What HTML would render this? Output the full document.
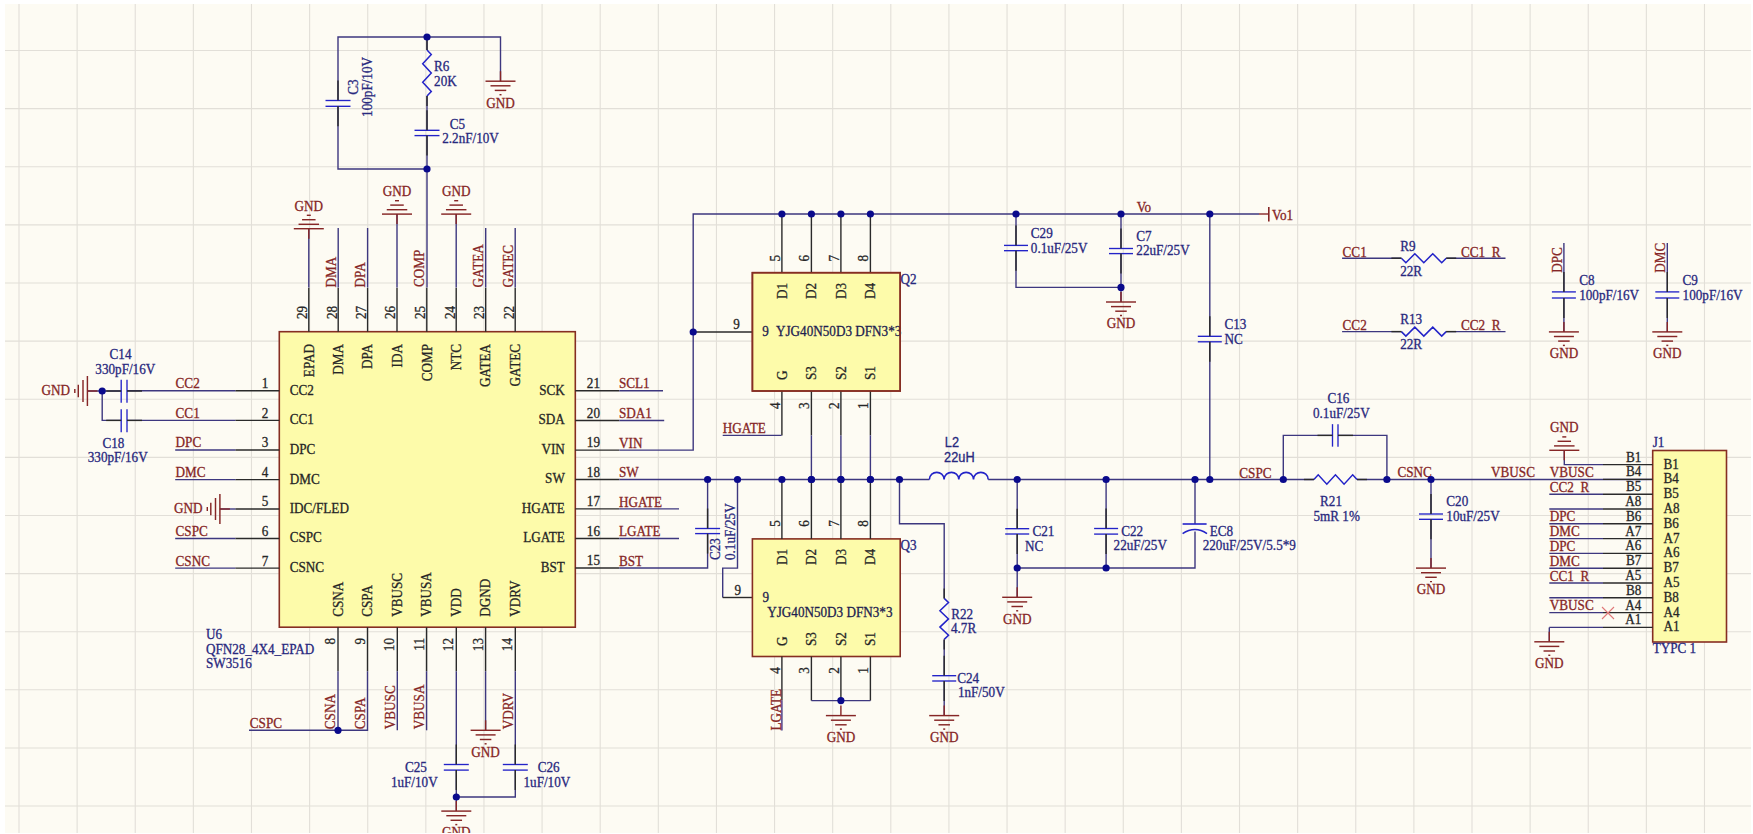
<!DOCTYPE html>
<html><head><meta charset="utf-8"><title>Schematic</title>
<style>
html,body{margin:0;padding:0;background:#fff;}
body{width:1753px;height:834px;overflow:hidden;font-family:"Liberation Serif",serif;}
svg{display:block;}
</style></head><body>
<svg width="1753" height="834" viewBox="0 0 1753 834">
<rect x="0" y="0" width="1753" height="834" fill="#FFFFFF"/>
<rect x="5" y="4" width="1746" height="829" fill="#FDFBF3"/>
<line x1="19" y1="4" x2="19" y2="833" stroke="#E2DFD8" stroke-width="1.1"/>
<line x1="77.12" y1="4" x2="77.12" y2="833" stroke="#E2DFD8" stroke-width="1.1"/>
<line x1="135.24" y1="4" x2="135.24" y2="833" stroke="#E2DFD8" stroke-width="1.1"/>
<line x1="193.36" y1="4" x2="193.36" y2="833" stroke="#E2DFD8" stroke-width="1.1"/>
<line x1="251.48" y1="4" x2="251.48" y2="833" stroke="#E2DFD8" stroke-width="1.1"/>
<line x1="309.6" y1="4" x2="309.6" y2="833" stroke="#E2DFD8" stroke-width="1.1"/>
<line x1="367.72" y1="4" x2="367.72" y2="833" stroke="#E2DFD8" stroke-width="1.1"/>
<line x1="425.84" y1="4" x2="425.84" y2="833" stroke="#E2DFD8" stroke-width="1.1"/>
<line x1="483.96" y1="4" x2="483.96" y2="833" stroke="#E2DFD8" stroke-width="1.1"/>
<line x1="542.08" y1="4" x2="542.08" y2="833" stroke="#E2DFD8" stroke-width="1.1"/>
<line x1="600.2" y1="4" x2="600.2" y2="833" stroke="#E2DFD8" stroke-width="1.1"/>
<line x1="658.32" y1="4" x2="658.32" y2="833" stroke="#E2DFD8" stroke-width="1.1"/>
<line x1="716.44" y1="4" x2="716.44" y2="833" stroke="#E2DFD8" stroke-width="1.1"/>
<line x1="774.56" y1="4" x2="774.56" y2="833" stroke="#E2DFD8" stroke-width="1.1"/>
<line x1="832.68" y1="4" x2="832.68" y2="833" stroke="#E2DFD8" stroke-width="1.1"/>
<line x1="890.8" y1="4" x2="890.8" y2="833" stroke="#E2DFD8" stroke-width="1.1"/>
<line x1="948.92" y1="4" x2="948.92" y2="833" stroke="#E2DFD8" stroke-width="1.1"/>
<line x1="1007.04" y1="4" x2="1007.04" y2="833" stroke="#E2DFD8" stroke-width="1.1"/>
<line x1="1065.16" y1="4" x2="1065.16" y2="833" stroke="#E2DFD8" stroke-width="1.1"/>
<line x1="1123.28" y1="4" x2="1123.28" y2="833" stroke="#E2DFD8" stroke-width="1.1"/>
<line x1="1181.4" y1="4" x2="1181.4" y2="833" stroke="#E2DFD8" stroke-width="1.1"/>
<line x1="1239.52" y1="4" x2="1239.52" y2="833" stroke="#E2DFD8" stroke-width="1.1"/>
<line x1="1297.64" y1="4" x2="1297.64" y2="833" stroke="#E2DFD8" stroke-width="1.1"/>
<line x1="1355.76" y1="4" x2="1355.76" y2="833" stroke="#E2DFD8" stroke-width="1.1"/>
<line x1="1413.88" y1="4" x2="1413.88" y2="833" stroke="#E2DFD8" stroke-width="1.1"/>
<line x1="1472" y1="4" x2="1472" y2="833" stroke="#E2DFD8" stroke-width="1.1"/>
<line x1="1530.12" y1="4" x2="1530.12" y2="833" stroke="#E2DFD8" stroke-width="1.1"/>
<line x1="1588.24" y1="4" x2="1588.24" y2="833" stroke="#E2DFD8" stroke-width="1.1"/>
<line x1="1646.36" y1="4" x2="1646.36" y2="833" stroke="#E2DFD8" stroke-width="1.1"/>
<line x1="1704.48" y1="4" x2="1704.48" y2="833" stroke="#E2DFD8" stroke-width="1.1"/>
<line x1="5" y1="50.5" x2="1751" y2="50.5" stroke="#E2DFD8" stroke-width="1.1"/>
<line x1="5" y1="108.62" x2="1751" y2="108.62" stroke="#E2DFD8" stroke-width="1.1"/>
<line x1="5" y1="166.74" x2="1751" y2="166.74" stroke="#E2DFD8" stroke-width="1.1"/>
<line x1="5" y1="224.86" x2="1751" y2="224.86" stroke="#E2DFD8" stroke-width="1.1"/>
<line x1="5" y1="282.98" x2="1751" y2="282.98" stroke="#E2DFD8" stroke-width="1.1"/>
<line x1="5" y1="341.1" x2="1751" y2="341.1" stroke="#E2DFD8" stroke-width="1.1"/>
<line x1="5" y1="399.22" x2="1751" y2="399.22" stroke="#E2DFD8" stroke-width="1.1"/>
<line x1="5" y1="457.34" x2="1751" y2="457.34" stroke="#E2DFD8" stroke-width="1.1"/>
<line x1="5" y1="515.46" x2="1751" y2="515.46" stroke="#E2DFD8" stroke-width="1.1"/>
<line x1="5" y1="573.58" x2="1751" y2="573.58" stroke="#E2DFD8" stroke-width="1.1"/>
<line x1="5" y1="631.7" x2="1751" y2="631.7" stroke="#E2DFD8" stroke-width="1.1"/>
<line x1="5" y1="689.82" x2="1751" y2="689.82" stroke="#E2DFD8" stroke-width="1.1"/>
<line x1="5" y1="747.94" x2="1751" y2="747.94" stroke="#E2DFD8" stroke-width="1.1"/>
<line x1="5" y1="806.06" x2="1751" y2="806.06" stroke="#E2DFD8" stroke-width="1.1"/>
<polyline points="500.5,81.2 500.5,37 338,37 338,100.5" fill="none" stroke="#3D377F" stroke-width="1.4" stroke-linejoin="miter"/>
<line x1="325.5" y1="100.5" x2="350.5" y2="100.5" stroke="#2323C8" stroke-width="1.35"/>
<line x1="325.5" y1="106.3" x2="350.5" y2="106.3" stroke="#2323C8" stroke-width="1.35"/>
<polyline points="338,106.3 338,169 427,169" fill="none" stroke="#3D377F" stroke-width="1.4" stroke-linejoin="miter"/>
<line x1="427" y1="37" x2="427" y2="50" stroke="#3D377F" stroke-width="1.4"/>
<polyline points="427,50 431.3,54.6 422.7,63.8 431.3,73 422.7,82.2 431.3,91.4 427,96" fill="none" stroke="#2323C8" stroke-width="1.5" stroke-linejoin="miter"/>
<line x1="427" y1="96" x2="427" y2="130.3" stroke="#3D377F" stroke-width="1.4"/>
<line x1="414.5" y1="130.3" x2="439.5" y2="130.3" stroke="#2323C8" stroke-width="1.35"/>
<line x1="414.5" y1="135.6" x2="439.5" y2="135.6" stroke="#2323C8" stroke-width="1.35"/>
<line x1="427" y1="135.6" x2="427" y2="287.4" stroke="#3D377F" stroke-width="1.4"/>
<line x1="500.5" y1="71.2" x2="500.5" y2="81.2" stroke="#862626" stroke-width="1.4"/>
<line x1="485.5" y1="81.2" x2="515.5" y2="81.2" stroke="#862626" stroke-width="1.45"/>
<line x1="490.5" y1="85.8" x2="510.5" y2="85.8" stroke="#862626" stroke-width="1.45"/>
<line x1="494.75" y1="90.4" x2="506.25" y2="90.4" stroke="#862626" stroke-width="1.45"/>
<line x1="499.5" y1="94.7" x2="501.5" y2="94.7" stroke="#862626" stroke-width="1.45"/>
<text transform="translate(500.5 107.6) translate(0 -0.1) scale(0.94 1)" fill="#862626" stroke="#862626" stroke-width="0.3" text-anchor="middle" font-size="14.0" font-family="Liberation Serif">GND</text>
<text transform="translate(358.2 94.8) rotate(-90) translate(0 0) scale(0.94 1)" fill="#28287E" stroke="#28287E" stroke-width="0.3" text-anchor="start" font-size="14.0" font-family="Liberation Serif">C3</text>
<text transform="translate(371.6 116.9) rotate(-90) translate(0 0) scale(0.94 1)" fill="#28287E" stroke="#28287E" stroke-width="0.3" text-anchor="start" font-size="14.0" font-family="Liberation Serif">100pF/10V</text>
<text transform="translate(434.1 70.6) translate(0 0) scale(0.94 1)" fill="#28287E" stroke="#28287E" stroke-width="0.3" text-anchor="start" font-size="14.0" font-family="Liberation Serif">R6</text>
<text transform="translate(434.1 85.7) translate(0 0) scale(0.94 1)" fill="#28287E" stroke="#28287E" stroke-width="0.3" text-anchor="start" font-size="14.0" font-family="Liberation Serif">20K</text>
<text transform="translate(449.8 129.2) translate(0 0) scale(0.94 1)" fill="#28287E" stroke="#28287E" stroke-width="0.3" text-anchor="start" font-size="14.0" font-family="Liberation Serif">C5</text>
<text transform="translate(442.2 143.2) translate(0 0) scale(0.94 1)" fill="#28287E" stroke="#28287E" stroke-width="0.3" text-anchor="start" font-size="14.0" font-family="Liberation Serif">2.2nF/10V</text>
<rect x="279.3" y="331.7" width="296" height="295.5" fill="#FDFBAA" stroke="#862E22" stroke-width="1.6"/>
<line x1="308.8" y1="331.7" x2="308.8" y2="287.7" stroke="#2A2A2A" stroke-width="1.4"/>
<text transform="translate(313.5 344) rotate(-90) translate(0 0) scale(0.94 1)" fill="#262626" stroke="#262626" stroke-width="0.3" text-anchor="end" font-size="14.0" font-family="Liberation Serif">EPAD</text>
<text transform="translate(307.1 319.1) rotate(-90) translate(0 0) scale(0.94 1)" fill="#262626" stroke="#262626" stroke-width="0.3" text-anchor="start" font-size="14.0" font-family="Liberation Serif">29</text>
<line x1="338.2" y1="331.7" x2="338.2" y2="287.7" stroke="#2A2A2A" stroke-width="1.4"/>
<text transform="translate(342.9 344) rotate(-90) translate(0 0) scale(0.94 1)" fill="#262626" stroke="#262626" stroke-width="0.3" text-anchor="end" font-size="14.0" font-family="Liberation Serif">DMA</text>
<text transform="translate(336.5 319.1) rotate(-90) translate(0 0) scale(0.94 1)" fill="#262626" stroke="#262626" stroke-width="0.3" text-anchor="start" font-size="14.0" font-family="Liberation Serif">28</text>
<line x1="367.6" y1="331.7" x2="367.6" y2="287.7" stroke="#2A2A2A" stroke-width="1.4"/>
<text transform="translate(372.3 344) rotate(-90) translate(0 0) scale(0.94 1)" fill="#262626" stroke="#262626" stroke-width="0.3" text-anchor="end" font-size="14.0" font-family="Liberation Serif">DPA</text>
<text transform="translate(365.9 319.1) rotate(-90) translate(0 0) scale(0.94 1)" fill="#262626" stroke="#262626" stroke-width="0.3" text-anchor="start" font-size="14.0" font-family="Liberation Serif">27</text>
<line x1="397" y1="331.7" x2="397" y2="287.7" stroke="#2A2A2A" stroke-width="1.4"/>
<text transform="translate(401.7 344) rotate(-90) translate(0 0) scale(0.94 1)" fill="#262626" stroke="#262626" stroke-width="0.3" text-anchor="end" font-size="14.0" font-family="Liberation Serif">IDA</text>
<text transform="translate(395.3 319.1) rotate(-90) translate(0 0) scale(0.94 1)" fill="#262626" stroke="#262626" stroke-width="0.3" text-anchor="start" font-size="14.0" font-family="Liberation Serif">26</text>
<line x1="426.8" y1="331.7" x2="426.8" y2="287.7" stroke="#2A2A2A" stroke-width="1.4"/>
<text transform="translate(431.5 344) rotate(-90) translate(0 0) scale(0.94 1)" fill="#262626" stroke="#262626" stroke-width="0.3" text-anchor="end" font-size="14.0" font-family="Liberation Serif">COMP</text>
<text transform="translate(425.1 319.1) rotate(-90) translate(0 0) scale(0.94 1)" fill="#262626" stroke="#262626" stroke-width="0.3" text-anchor="start" font-size="14.0" font-family="Liberation Serif">25</text>
<line x1="456.2" y1="331.7" x2="456.2" y2="287.7" stroke="#2A2A2A" stroke-width="1.4"/>
<text transform="translate(460.9 344) rotate(-90) translate(0 0) scale(0.94 1)" fill="#262626" stroke="#262626" stroke-width="0.3" text-anchor="end" font-size="14.0" font-family="Liberation Serif">NTC</text>
<text transform="translate(454.5 319.1) rotate(-90) translate(0 0) scale(0.94 1)" fill="#262626" stroke="#262626" stroke-width="0.3" text-anchor="start" font-size="14.0" font-family="Liberation Serif">24</text>
<line x1="485.7" y1="331.7" x2="485.7" y2="287.7" stroke="#2A2A2A" stroke-width="1.4"/>
<text transform="translate(490.4 344) rotate(-90) translate(0 0) scale(0.94 1)" fill="#262626" stroke="#262626" stroke-width="0.3" text-anchor="end" font-size="14.0" font-family="Liberation Serif">GATEA</text>
<text transform="translate(484 319.1) rotate(-90) translate(0 0) scale(0.94 1)" fill="#262626" stroke="#262626" stroke-width="0.3" text-anchor="start" font-size="14.0" font-family="Liberation Serif">23</text>
<line x1="515.2" y1="331.7" x2="515.2" y2="287.7" stroke="#2A2A2A" stroke-width="1.4"/>
<text transform="translate(519.9 344) rotate(-90) translate(0 0) scale(0.94 1)" fill="#262626" stroke="#262626" stroke-width="0.3" text-anchor="end" font-size="14.0" font-family="Liberation Serif">GATEC</text>
<text transform="translate(513.5 319.1) rotate(-90) translate(0 0) scale(0.94 1)" fill="#262626" stroke="#262626" stroke-width="0.3" text-anchor="start" font-size="14.0" font-family="Liberation Serif">22</text>
<line x1="308.8" y1="287.4" x2="308.8" y2="228.7" stroke="#3D377F" stroke-width="1.4"/>
<line x1="308.8" y1="238.7" x2="308.8" y2="228.7" stroke="#862626" stroke-width="1.4"/>
<line x1="293.8" y1="228.7" x2="323.8" y2="228.7" stroke="#862626" stroke-width="1.45"/>
<line x1="298.55" y1="224.3" x2="319.05" y2="224.3" stroke="#862626" stroke-width="1.45"/>
<line x1="302.05" y1="219.7" x2="315.55" y2="219.7" stroke="#862626" stroke-width="1.45"/>
<line x1="306.8" y1="215.3" x2="310.8" y2="215.3" stroke="#862626" stroke-width="1.45"/>
<text transform="translate(308.8 210.7) translate(0 -0.2) scale(0.94 1)" fill="#862626" stroke="#862626" stroke-width="0.3" text-anchor="middle" font-size="14.0" font-family="Liberation Serif">GND</text>
<line x1="338.2" y1="287.4" x2="338.2" y2="228" stroke="#3D377F" stroke-width="1.4"/>
<text transform="translate(334.8 287.4) rotate(-90) translate(0 1) scale(0.94 1)" fill="#862626" stroke="#862626" stroke-width="0.3" text-anchor="start" font-size="14.0" font-family="Liberation Serif">DMA</text>
<line x1="367.6" y1="287.4" x2="367.6" y2="228" stroke="#3D377F" stroke-width="1.4"/>
<text transform="translate(364.2 287.4) rotate(-90) translate(0 1) scale(0.94 1)" fill="#862626" stroke="#862626" stroke-width="0.3" text-anchor="start" font-size="14.0" font-family="Liberation Serif">DPA</text>
<line x1="485.7" y1="287.4" x2="485.7" y2="228" stroke="#3D377F" stroke-width="1.4"/>
<text transform="translate(482.3 287.4) rotate(-90) translate(0 1) scale(0.94 1)" fill="#862626" stroke="#862626" stroke-width="0.3" text-anchor="start" font-size="14.0" font-family="Liberation Serif">GATEA</text>
<line x1="515.2" y1="287.4" x2="515.2" y2="228" stroke="#3D377F" stroke-width="1.4"/>
<text transform="translate(511.8 287.4) rotate(-90) translate(0 1) scale(0.94 1)" fill="#862626" stroke="#862626" stroke-width="0.3" text-anchor="start" font-size="14.0" font-family="Liberation Serif">GATEC</text>
<text transform="translate(423.2 287) rotate(-90) translate(0 1) scale(0.94 1)" fill="#862626" stroke="#862626" stroke-width="0.3" text-anchor="start" font-size="14.0" font-family="Liberation Serif">COMP</text>
<line x1="397" y1="287.4" x2="397" y2="214.1" stroke="#3D377F" stroke-width="1.4"/>
<line x1="397" y1="224.1" x2="397" y2="214.1" stroke="#862626" stroke-width="1.4"/>
<line x1="382" y1="214.1" x2="412" y2="214.1" stroke="#862626" stroke-width="1.45"/>
<line x1="386.75" y1="209.7" x2="407.25" y2="209.7" stroke="#862626" stroke-width="1.45"/>
<line x1="390.25" y1="205.1" x2="403.75" y2="205.1" stroke="#862626" stroke-width="1.45"/>
<line x1="395" y1="200.7" x2="399" y2="200.7" stroke="#862626" stroke-width="1.45"/>
<text transform="translate(397 196.1) translate(0 -0.2) scale(0.94 1)" fill="#862626" stroke="#862626" stroke-width="0.3" text-anchor="middle" font-size="14.0" font-family="Liberation Serif">GND</text>
<line x1="456.2" y1="287.4" x2="456.2" y2="214.1" stroke="#3D377F" stroke-width="1.4"/>
<line x1="456.2" y1="224.1" x2="456.2" y2="214.1" stroke="#862626" stroke-width="1.4"/>
<line x1="441.2" y1="214.1" x2="471.2" y2="214.1" stroke="#862626" stroke-width="1.45"/>
<line x1="445.95" y1="209.7" x2="466.45" y2="209.7" stroke="#862626" stroke-width="1.45"/>
<line x1="449.45" y1="205.1" x2="462.95" y2="205.1" stroke="#862626" stroke-width="1.45"/>
<line x1="454.2" y1="200.7" x2="458.2" y2="200.7" stroke="#862626" stroke-width="1.45"/>
<text transform="translate(456.2 196.1) translate(0 -0.2) scale(0.94 1)" fill="#862626" stroke="#862626" stroke-width="0.3" text-anchor="middle" font-size="14.0" font-family="Liberation Serif">GND</text>
<line x1="279.3" y1="390.8" x2="235.3" y2="390.8" stroke="#2A2A2A" stroke-width="1.4"/>
<text transform="translate(289.7 395.5) translate(0 -0.8) scale(0.94 1)" fill="#262626" stroke="#262626" stroke-width="0.3" text-anchor="start" font-size="14.0" font-family="Liberation Serif">CC2</text>
<text transform="translate(268.3 388.2) translate(0 0) scale(0.94 1)" fill="#262626" stroke="#262626" stroke-width="0.3" text-anchor="end" font-size="14.0" font-family="Liberation Serif">1</text>
<line x1="279.3" y1="420.4" x2="235.3" y2="420.4" stroke="#2A2A2A" stroke-width="1.4"/>
<text transform="translate(289.7 425.1) translate(0 -0.8) scale(0.94 1)" fill="#262626" stroke="#262626" stroke-width="0.3" text-anchor="start" font-size="14.0" font-family="Liberation Serif">CC1</text>
<text transform="translate(268.3 417.8) translate(0 0) scale(0.94 1)" fill="#262626" stroke="#262626" stroke-width="0.3" text-anchor="end" font-size="14.0" font-family="Liberation Serif">2</text>
<line x1="279.3" y1="450" x2="235.3" y2="450" stroke="#2A2A2A" stroke-width="1.4"/>
<text transform="translate(289.7 454.7) translate(0 -0.8) scale(0.94 1)" fill="#262626" stroke="#262626" stroke-width="0.3" text-anchor="start" font-size="14.0" font-family="Liberation Serif">DPC</text>
<text transform="translate(268.3 447.4) translate(0 0) scale(0.94 1)" fill="#262626" stroke="#262626" stroke-width="0.3" text-anchor="end" font-size="14.0" font-family="Liberation Serif">3</text>
<line x1="279.3" y1="479.6" x2="235.3" y2="479.6" stroke="#2A2A2A" stroke-width="1.4"/>
<text transform="translate(289.7 484.3) translate(0 -0.8) scale(0.94 1)" fill="#262626" stroke="#262626" stroke-width="0.3" text-anchor="start" font-size="14.0" font-family="Liberation Serif">DMC</text>
<text transform="translate(268.3 477) translate(0 0) scale(0.94 1)" fill="#262626" stroke="#262626" stroke-width="0.3" text-anchor="end" font-size="14.0" font-family="Liberation Serif">4</text>
<line x1="279.3" y1="509" x2="235.3" y2="509" stroke="#2A2A2A" stroke-width="1.4"/>
<text transform="translate(289.7 513.7) translate(0 -0.8) scale(0.94 1)" fill="#262626" stroke="#262626" stroke-width="0.3" text-anchor="start" font-size="14.0" font-family="Liberation Serif">IDC/FLED</text>
<text transform="translate(268.3 506.4) translate(0 0) scale(0.94 1)" fill="#262626" stroke="#262626" stroke-width="0.3" text-anchor="end" font-size="14.0" font-family="Liberation Serif">5</text>
<line x1="279.3" y1="538.5" x2="235.3" y2="538.5" stroke="#2A2A2A" stroke-width="1.4"/>
<text transform="translate(289.7 543.2) translate(0 -0.8) scale(0.94 1)" fill="#262626" stroke="#262626" stroke-width="0.3" text-anchor="start" font-size="14.0" font-family="Liberation Serif">CSPC</text>
<text transform="translate(268.3 535.9) translate(0 0) scale(0.94 1)" fill="#262626" stroke="#262626" stroke-width="0.3" text-anchor="end" font-size="14.0" font-family="Liberation Serif">6</text>
<line x1="279.3" y1="568.1" x2="235.3" y2="568.1" stroke="#2A2A2A" stroke-width="1.4"/>
<text transform="translate(289.7 572.8) translate(0 -0.8) scale(0.94 1)" fill="#262626" stroke="#262626" stroke-width="0.3" text-anchor="start" font-size="14.0" font-family="Liberation Serif">CSNC</text>
<text transform="translate(268.3 565.5) translate(0 0) scale(0.94 1)" fill="#262626" stroke="#262626" stroke-width="0.3" text-anchor="end" font-size="14.0" font-family="Liberation Serif">7</text>
<line x1="127" y1="390.8" x2="235.3" y2="390.8" stroke="#3D377F" stroke-width="1.4"/>
<line x1="127" y1="420.4" x2="235.3" y2="420.4" stroke="#3D377F" stroke-width="1.4"/>
<text transform="translate(175.6 387.2) translate(0 1) scale(0.94 1)" fill="#862626" stroke="#862626" stroke-width="0.3" text-anchor="start" font-size="14.0" font-family="Liberation Serif">CC2</text>
<text transform="translate(175.6 416.8) translate(0 1) scale(0.94 1)" fill="#862626" stroke="#862626" stroke-width="0.3" text-anchor="start" font-size="14.0" font-family="Liberation Serif">CC1</text>
<line x1="175.2" y1="450" x2="235.3" y2="450" stroke="#3D377F" stroke-width="1.4"/>
<text transform="translate(175.6 446.4) translate(0 1) scale(0.94 1)" fill="#862626" stroke="#862626" stroke-width="0.3" text-anchor="start" font-size="14.0" font-family="Liberation Serif">DPC</text>
<line x1="175.2" y1="479.6" x2="235.3" y2="479.6" stroke="#3D377F" stroke-width="1.4"/>
<text transform="translate(175.6 476) translate(0 1) scale(0.94 1)" fill="#862626" stroke="#862626" stroke-width="0.3" text-anchor="start" font-size="14.0" font-family="Liberation Serif">DMC</text>
<line x1="175.2" y1="538.5" x2="235.3" y2="538.5" stroke="#3D377F" stroke-width="1.4"/>
<text transform="translate(175.6 534.9) translate(0 1) scale(0.94 1)" fill="#862626" stroke="#862626" stroke-width="0.3" text-anchor="start" font-size="14.0" font-family="Liberation Serif">CSPC</text>
<line x1="175.2" y1="568.1" x2="235.3" y2="568.1" stroke="#3D377F" stroke-width="1.4"/>
<text transform="translate(175.6 564.5) translate(0 1) scale(0.94 1)" fill="#862626" stroke="#862626" stroke-width="0.3" text-anchor="start" font-size="14.0" font-family="Liberation Serif">CSNC</text>
<line x1="219.9" y1="509" x2="235.3" y2="509" stroke="#3D377F" stroke-width="1.4"/>
<line x1="229.9" y1="509" x2="219.9" y2="509" stroke="#862626" stroke-width="1.4"/>
<line x1="219.9" y1="494" x2="219.9" y2="524" stroke="#862626" stroke-width="1.45"/>
<line x1="215.5" y1="498" x2="215.5" y2="520" stroke="#862626" stroke-width="1.45"/>
<line x1="210.8" y1="502.75" x2="210.8" y2="515.25" stroke="#862626" stroke-width="1.45"/>
<line x1="207.3" y1="507" x2="207.3" y2="511" stroke="#862626" stroke-width="1.45"/>
<text transform="translate(202.4 513.6) translate(0 -0.7) scale(0.94 1)" fill="#862626" stroke="#862626" stroke-width="0.3" text-anchor="end" font-size="14.0" font-family="Liberation Serif">GND</text>
<line x1="87.4" y1="391" x2="121.2" y2="391" stroke="#3D377F" stroke-width="1.4"/>
<polyline points="102.2,391 102.2,420.4 121.2,420.4" fill="none" stroke="#3D377F" stroke-width="1.4" stroke-linejoin="miter"/>
<line x1="121.2" y1="379.8" x2="121.2" y2="402.8" stroke="#2323C8" stroke-width="1.35"/>
<line x1="127" y1="379.8" x2="127" y2="402.8" stroke="#2323C8" stroke-width="1.35"/>
<line x1="121.2" y1="409.2" x2="121.2" y2="432.2" stroke="#2323C8" stroke-width="1.35"/>
<line x1="127" y1="409.2" x2="127" y2="432.2" stroke="#2323C8" stroke-width="1.35"/>
<line x1="97.4" y1="391" x2="87.4" y2="391" stroke="#862626" stroke-width="1.4"/>
<line x1="87.4" y1="376" x2="87.4" y2="406" stroke="#862626" stroke-width="1.45"/>
<line x1="83" y1="380" x2="83" y2="402" stroke="#862626" stroke-width="1.45"/>
<line x1="78.3" y1="384.75" x2="78.3" y2="397.25" stroke="#862626" stroke-width="1.45"/>
<line x1="74.8" y1="389" x2="74.8" y2="393" stroke="#862626" stroke-width="1.45"/>
<text transform="translate(69.9 395.6) translate(0 -0.7) scale(0.94 1)" fill="#862626" stroke="#862626" stroke-width="0.3" text-anchor="end" font-size="14.0" font-family="Liberation Serif">GND</text>
<text transform="translate(120.5 358.6) translate(0 0) scale(0.94 1)" fill="#28287E" stroke="#28287E" stroke-width="0.3" text-anchor="middle" font-size="14.0" font-family="Liberation Serif">C14</text>
<text transform="translate(125.3 373.5) translate(0 0) scale(0.94 1)" fill="#28287E" stroke="#28287E" stroke-width="0.3" text-anchor="middle" font-size="14.0" font-family="Liberation Serif">330pF/16V</text>
<text transform="translate(113.4 447.6) translate(0 0) scale(0.94 1)" fill="#28287E" stroke="#28287E" stroke-width="0.3" text-anchor="middle" font-size="14.0" font-family="Liberation Serif">C18</text>
<text transform="translate(117.7 461.6) translate(0 0) scale(0.94 1)" fill="#28287E" stroke="#28287E" stroke-width="0.3" text-anchor="middle" font-size="14.0" font-family="Liberation Serif">330pF/16V</text>
<line x1="575.3" y1="390.8" x2="619.3" y2="390.8" stroke="#2A2A2A" stroke-width="1.4"/>
<text transform="translate(564.8 395.5) translate(0 -0.8) scale(0.94 1)" fill="#262626" stroke="#262626" stroke-width="0.3" text-anchor="end" font-size="14.0" font-family="Liberation Serif">SCK</text>
<text transform="translate(586.8 387.8) translate(0 0) scale(0.94 1)" fill="#262626" stroke="#262626" stroke-width="0.3" text-anchor="start" font-size="14.0" font-family="Liberation Serif">21</text>
<text transform="translate(619 387.4) translate(0 1) scale(0.94 1)" fill="#862626" stroke="#862626" stroke-width="0.3" text-anchor="start" font-size="14.0" font-family="Liberation Serif">SCL1</text>
<line x1="575.3" y1="420.5" x2="619.3" y2="420.5" stroke="#2A2A2A" stroke-width="1.4"/>
<text transform="translate(564.8 425.2) translate(0 -0.8) scale(0.94 1)" fill="#262626" stroke="#262626" stroke-width="0.3" text-anchor="end" font-size="14.0" font-family="Liberation Serif">SDA</text>
<text transform="translate(586.8 417.5) translate(0 0) scale(0.94 1)" fill="#262626" stroke="#262626" stroke-width="0.3" text-anchor="start" font-size="14.0" font-family="Liberation Serif">20</text>
<text transform="translate(619 417.1) translate(0 1) scale(0.94 1)" fill="#862626" stroke="#862626" stroke-width="0.3" text-anchor="start" font-size="14.0" font-family="Liberation Serif">SDA1</text>
<line x1="575.3" y1="450.1" x2="619.3" y2="450.1" stroke="#2A2A2A" stroke-width="1.4"/>
<text transform="translate(564.8 454.8) translate(0 -0.8) scale(0.94 1)" fill="#262626" stroke="#262626" stroke-width="0.3" text-anchor="end" font-size="14.0" font-family="Liberation Serif">VIN</text>
<text transform="translate(586.8 447.1) translate(0 0) scale(0.94 1)" fill="#262626" stroke="#262626" stroke-width="0.3" text-anchor="start" font-size="14.0" font-family="Liberation Serif">19</text>
<text transform="translate(619 446.7) translate(0 1) scale(0.94 1)" fill="#862626" stroke="#862626" stroke-width="0.3" text-anchor="start" font-size="14.0" font-family="Liberation Serif">VIN</text>
<line x1="575.3" y1="479.5" x2="619.3" y2="479.5" stroke="#2A2A2A" stroke-width="1.4"/>
<text transform="translate(564.8 484.2) translate(0 -0.8) scale(0.94 1)" fill="#262626" stroke="#262626" stroke-width="0.3" text-anchor="end" font-size="14.0" font-family="Liberation Serif">SW</text>
<text transform="translate(586.8 476.5) translate(0 0) scale(0.94 1)" fill="#262626" stroke="#262626" stroke-width="0.3" text-anchor="start" font-size="14.0" font-family="Liberation Serif">18</text>
<text transform="translate(619 476.1) translate(0 1) scale(0.94 1)" fill="#862626" stroke="#862626" stroke-width="0.3" text-anchor="start" font-size="14.0" font-family="Liberation Serif">SW</text>
<line x1="575.3" y1="508.9" x2="619.3" y2="508.9" stroke="#2A2A2A" stroke-width="1.4"/>
<text transform="translate(564.8 513.6) translate(0 -0.8) scale(0.94 1)" fill="#262626" stroke="#262626" stroke-width="0.3" text-anchor="end" font-size="14.0" font-family="Liberation Serif">HGATE</text>
<text transform="translate(586.8 505.9) translate(0 0) scale(0.94 1)" fill="#262626" stroke="#262626" stroke-width="0.3" text-anchor="start" font-size="14.0" font-family="Liberation Serif">17</text>
<text transform="translate(619 505.5) translate(0 1) scale(0.94 1)" fill="#862626" stroke="#862626" stroke-width="0.3" text-anchor="start" font-size="14.0" font-family="Liberation Serif">HGATE</text>
<line x1="575.3" y1="538.5" x2="619.3" y2="538.5" stroke="#2A2A2A" stroke-width="1.4"/>
<text transform="translate(564.8 543.2) translate(0 -0.8) scale(0.94 1)" fill="#262626" stroke="#262626" stroke-width="0.3" text-anchor="end" font-size="14.0" font-family="Liberation Serif">LGATE</text>
<text transform="translate(586.8 535.5) translate(0 0) scale(0.94 1)" fill="#262626" stroke="#262626" stroke-width="0.3" text-anchor="start" font-size="14.0" font-family="Liberation Serif">16</text>
<text transform="translate(619 535.1) translate(0 1) scale(0.94 1)" fill="#862626" stroke="#862626" stroke-width="0.3" text-anchor="start" font-size="14.0" font-family="Liberation Serif">LGATE</text>
<line x1="575.3" y1="568" x2="619.3" y2="568" stroke="#2A2A2A" stroke-width="1.4"/>
<text transform="translate(564.8 572.7) translate(0 -0.8) scale(0.94 1)" fill="#262626" stroke="#262626" stroke-width="0.3" text-anchor="end" font-size="14.0" font-family="Liberation Serif">BST</text>
<text transform="translate(586.8 565) translate(0 0) scale(0.94 1)" fill="#262626" stroke="#262626" stroke-width="0.3" text-anchor="start" font-size="14.0" font-family="Liberation Serif">15</text>
<text transform="translate(619 564.6) translate(0 1) scale(0.94 1)" fill="#862626" stroke="#862626" stroke-width="0.3" text-anchor="start" font-size="14.0" font-family="Liberation Serif">BST</text>
<line x1="619.3" y1="390.8" x2="663" y2="390.8" stroke="#3D377F" stroke-width="1.4"/>
<line x1="619.3" y1="420.5" x2="664.2" y2="420.5" stroke="#3D377F" stroke-width="1.4"/>
<polyline points="619.3,450.1 693.2,450.1 693.2,214 1259,214" fill="none" stroke="#3D377F" stroke-width="1.4" stroke-linejoin="miter"/>
<line x1="619.3" y1="508.9" x2="679" y2="508.9" stroke="#3D377F" stroke-width="1.4"/>
<line x1="619.3" y1="538.5" x2="679" y2="538.5" stroke="#3D377F" stroke-width="1.4"/>
<polyline points="619.3,568 707.6,568 707.6,533.6" fill="none" stroke="#3D377F" stroke-width="1.4" stroke-linejoin="miter"/>
<line x1="338" y1="627.2" x2="338" y2="671.2" stroke="#2A2A2A" stroke-width="1.4"/>
<text transform="translate(342.7 616.8) rotate(-90) translate(0 0) scale(0.94 1)" fill="#262626" stroke="#262626" stroke-width="0.3" text-anchor="start" font-size="14.0" font-family="Liberation Serif">CSNA</text>
<text transform="translate(335 638) rotate(-90) translate(0 0) scale(0.94 1)" fill="#262626" stroke="#262626" stroke-width="0.3" text-anchor="end" font-size="14.0" font-family="Liberation Serif">8</text>
<line x1="367.5" y1="627.2" x2="367.5" y2="671.2" stroke="#2A2A2A" stroke-width="1.4"/>
<text transform="translate(372.2 616.8) rotate(-90) translate(0 0) scale(0.94 1)" fill="#262626" stroke="#262626" stroke-width="0.3" text-anchor="start" font-size="14.0" font-family="Liberation Serif">CSPA</text>
<text transform="translate(364.5 638) rotate(-90) translate(0 0) scale(0.94 1)" fill="#262626" stroke="#262626" stroke-width="0.3" text-anchor="end" font-size="14.0" font-family="Liberation Serif">9</text>
<line x1="397.3" y1="627.2" x2="397.3" y2="671.2" stroke="#2A2A2A" stroke-width="1.4"/>
<text transform="translate(402 616.8) rotate(-90) translate(0 0) scale(0.94 1)" fill="#262626" stroke="#262626" stroke-width="0.3" text-anchor="start" font-size="14.0" font-family="Liberation Serif">VBUSC</text>
<text transform="translate(394.3 638) rotate(-90) translate(0 0) scale(0.94 1)" fill="#262626" stroke="#262626" stroke-width="0.3" text-anchor="end" font-size="14.0" font-family="Liberation Serif">10</text>
<line x1="426.6" y1="627.2" x2="426.6" y2="671.2" stroke="#2A2A2A" stroke-width="1.4"/>
<text transform="translate(431.3 616.8) rotate(-90) translate(0 0) scale(0.94 1)" fill="#262626" stroke="#262626" stroke-width="0.3" text-anchor="start" font-size="14.0" font-family="Liberation Serif">VBUSA</text>
<text transform="translate(423.6 638) rotate(-90) translate(0 0) scale(0.94 1)" fill="#262626" stroke="#262626" stroke-width="0.3" text-anchor="end" font-size="14.0" font-family="Liberation Serif">11</text>
<line x1="456.3" y1="627.2" x2="456.3" y2="671.2" stroke="#2A2A2A" stroke-width="1.4"/>
<text transform="translate(461 616.8) rotate(-90) translate(0 0) scale(0.94 1)" fill="#262626" stroke="#262626" stroke-width="0.3" text-anchor="start" font-size="14.0" font-family="Liberation Serif">VDD</text>
<text transform="translate(453.3 638) rotate(-90) translate(0 0) scale(0.94 1)" fill="#262626" stroke="#262626" stroke-width="0.3" text-anchor="end" font-size="14.0" font-family="Liberation Serif">12</text>
<line x1="485.6" y1="627.2" x2="485.6" y2="671.2" stroke="#2A2A2A" stroke-width="1.4"/>
<text transform="translate(490.3 616.8) rotate(-90) translate(0 0) scale(0.94 1)" fill="#262626" stroke="#262626" stroke-width="0.3" text-anchor="start" font-size="14.0" font-family="Liberation Serif">DGND</text>
<text transform="translate(482.6 638) rotate(-90) translate(0 0) scale(0.94 1)" fill="#262626" stroke="#262626" stroke-width="0.3" text-anchor="end" font-size="14.0" font-family="Liberation Serif">13</text>
<line x1="515.3" y1="627.2" x2="515.3" y2="671.2" stroke="#2A2A2A" stroke-width="1.4"/>
<text transform="translate(520 616.8) rotate(-90) translate(0 0) scale(0.94 1)" fill="#262626" stroke="#262626" stroke-width="0.3" text-anchor="start" font-size="14.0" font-family="Liberation Serif">VDRV</text>
<text transform="translate(512.3 638) rotate(-90) translate(0 0) scale(0.94 1)" fill="#262626" stroke="#262626" stroke-width="0.3" text-anchor="end" font-size="14.0" font-family="Liberation Serif">14</text>
<line x1="338" y1="671.2" x2="338" y2="730.3" stroke="#3D377F" stroke-width="1.4"/>
<line x1="397.3" y1="671.2" x2="397.3" y2="730.3" stroke="#3D377F" stroke-width="1.4"/>
<line x1="426.6" y1="671.2" x2="426.6" y2="730.3" stroke="#3D377F" stroke-width="1.4"/>
<line x1="485.6" y1="671.2" x2="485.6" y2="730.3" stroke="#3D377F" stroke-width="1.4"/>
<polyline points="249,730.3 367.5,730.3 367.5,671.2" fill="none" stroke="#3D377F" stroke-width="1.4" stroke-linejoin="miter"/>
<text transform="translate(249.8 727) translate(0 1) scale(0.94 1)" fill="#862626" stroke="#862626" stroke-width="0.3" text-anchor="start" font-size="14.0" font-family="Liberation Serif">CSPC</text>
<text transform="translate(334.2 729.2) rotate(-90) translate(0 1) scale(0.94 1)" fill="#862626" stroke="#862626" stroke-width="0.3" text-anchor="start" font-size="14.0" font-family="Liberation Serif">CSNA</text>
<text transform="translate(363.7 729.2) rotate(-90) translate(0 1) scale(0.94 1)" fill="#862626" stroke="#862626" stroke-width="0.3" text-anchor="start" font-size="14.0" font-family="Liberation Serif">CSPA</text>
<text transform="translate(393.5 729.2) rotate(-90) translate(0 1) scale(0.94 1)" fill="#862626" stroke="#862626" stroke-width="0.3" text-anchor="start" font-size="14.0" font-family="Liberation Serif">VBUSC</text>
<text transform="translate(422.8 729.2) rotate(-90) translate(0 1) scale(0.94 1)" fill="#862626" stroke="#862626" stroke-width="0.3" text-anchor="start" font-size="14.0" font-family="Liberation Serif">VBUSA</text>
<text transform="translate(511.5 729.2) rotate(-90) translate(0 1) scale(0.94 1)" fill="#862626" stroke="#862626" stroke-width="0.3" text-anchor="start" font-size="14.0" font-family="Liberation Serif">VDRV</text>
<line x1="485.6" y1="720.3" x2="485.6" y2="730.3" stroke="#862626" stroke-width="1.4"/>
<line x1="470.6" y1="730.3" x2="500.6" y2="730.3" stroke="#862626" stroke-width="1.45"/>
<line x1="475.6" y1="734.9" x2="495.6" y2="734.9" stroke="#862626" stroke-width="1.45"/>
<line x1="479.85" y1="739.5" x2="491.35" y2="739.5" stroke="#862626" stroke-width="1.45"/>
<line x1="484.6" y1="743.8" x2="486.6" y2="743.8" stroke="#862626" stroke-width="1.45"/>
<text transform="translate(485.6 756.7) translate(0 -0.1) scale(0.94 1)" fill="#862626" stroke="#862626" stroke-width="0.3" text-anchor="middle" font-size="14.0" font-family="Liberation Serif">GND</text>
<line x1="456.3" y1="671.2" x2="456.3" y2="764.5" stroke="#3D377F" stroke-width="1.4"/>
<line x1="443.8" y1="764.5" x2="468.8" y2="764.5" stroke="#2323C8" stroke-width="1.35"/>
<line x1="443.8" y1="770.1" x2="468.8" y2="770.1" stroke="#2323C8" stroke-width="1.35"/>
<line x1="456.3" y1="770.1" x2="456.3" y2="811.1" stroke="#3D377F" stroke-width="1.4"/>
<polyline points="456.3,797 515.3,797 515.3,770.1" fill="none" stroke="#3D377F" stroke-width="1.4" stroke-linejoin="miter"/>
<line x1="502.8" y1="764.5" x2="527.8" y2="764.5" stroke="#2323C8" stroke-width="1.35"/>
<line x1="502.8" y1="770.1" x2="527.8" y2="770.1" stroke="#2323C8" stroke-width="1.35"/>
<line x1="515.3" y1="764.5" x2="515.3" y2="671.2" stroke="#3D377F" stroke-width="1.4"/>
<line x1="456.3" y1="801.1" x2="456.3" y2="811.1" stroke="#862626" stroke-width="1.4"/>
<line x1="441.3" y1="811.1" x2="471.3" y2="811.1" stroke="#862626" stroke-width="1.45"/>
<line x1="446.3" y1="815.7" x2="466.3" y2="815.7" stroke="#862626" stroke-width="1.45"/>
<line x1="450.55" y1="820.3" x2="462.05" y2="820.3" stroke="#862626" stroke-width="1.45"/>
<line x1="455.3" y1="824.6" x2="457.3" y2="824.6" stroke="#862626" stroke-width="1.45"/>
<text transform="translate(456.3 837.5) translate(0 -0.1) scale(0.94 1)" fill="#862626" stroke="#862626" stroke-width="0.3" text-anchor="middle" font-size="14.0" font-family="Liberation Serif">GND</text>
<text transform="translate(405 772.2) translate(0 0) scale(0.94 1)" fill="#28287E" stroke="#28287E" stroke-width="0.3" text-anchor="start" font-size="14.0" font-family="Liberation Serif">C25</text>
<text transform="translate(390.9 786.9) translate(0 0) scale(0.94 1)" fill="#28287E" stroke="#28287E" stroke-width="0.3" text-anchor="start" font-size="14.0" font-family="Liberation Serif">1uF/10V</text>
<text transform="translate(537.7 772.2) translate(0 0) scale(0.94 1)" fill="#28287E" stroke="#28287E" stroke-width="0.3" text-anchor="start" font-size="14.0" font-family="Liberation Serif">C26</text>
<text transform="translate(523.5 786.9) translate(0 0) scale(0.94 1)" fill="#28287E" stroke="#28287E" stroke-width="0.3" text-anchor="start" font-size="14.0" font-family="Liberation Serif">1uF/10V</text>
<text transform="translate(205.9 638.8) translate(0 0) scale(0.94 1)" fill="#28287E" stroke="#28287E" stroke-width="0.3" text-anchor="start" font-size="14.0" font-family="Liberation Serif">U6</text>
<text transform="translate(205.9 654.1) translate(0 0) scale(0.94 1)" fill="#28287E" stroke="#28287E" stroke-width="0.3" text-anchor="start" font-size="14.0" font-family="Liberation Serif">QFN28_4X4_EPAD</text>
<text transform="translate(205.9 668.3) translate(0 0) scale(0.94 1)" fill="#28287E" stroke="#28287E" stroke-width="0.3" text-anchor="start" font-size="14.0" font-family="Liberation Serif">SW3516</text>
<line x1="619.3" y1="479.5" x2="929.4" y2="479.5" stroke="#3D377F" stroke-width="1.4"/>
<line x1="988.2" y1="479.5" x2="1313.9" y2="479.5" stroke="#3D377F" stroke-width="1.4"/>
<line x1="1357" y1="479.5" x2="1652.7" y2="479.5" stroke="#3D377F" stroke-width="1.4"/>
<line x1="707.6" y1="479.5" x2="707.6" y2="528.5" stroke="#3D377F" stroke-width="1.4"/>
<line x1="695.1" y1="528.5" x2="720.1" y2="528.5" stroke="#2323C8" stroke-width="1.35"/>
<line x1="695.1" y1="533.6" x2="720.1" y2="533.6" stroke="#2323C8" stroke-width="1.35"/>
<text transform="translate(720.2 560) rotate(-90) translate(0 0) scale(0.94 1)" fill="#28287E" stroke="#28287E" stroke-width="0.3" text-anchor="start" font-size="14.0" font-family="Liberation Serif">C23</text>
<text transform="translate(735.2 560) rotate(-90) translate(0 0) scale(0.94 1)" fill="#28287E" stroke="#28287E" stroke-width="0.3" text-anchor="start" font-size="14.0" font-family="Liberation Serif">0.1uF/25V</text>
<polyline points="737.5,479.5 737.5,568.1 722.7,568.1 722.7,597.5" fill="none" stroke="#3D377F" stroke-width="1.4" stroke-linejoin="miter"/>
<line x1="722.7" y1="597.5" x2="752.4" y2="597.5" stroke="#2A2A2A" stroke-width="1.4"/>
<rect x="752.4" y="272.7" width="147.8" height="118.3" fill="#FDFBAA" stroke="#862E22" stroke-width="1.6"/>
<line x1="781.9" y1="214" x2="781.9" y2="272.7" stroke="#2A2A2A" stroke-width="1.4"/>
<text transform="translate(786.6 299) rotate(-90) translate(0 0) scale(0.94 1)" fill="#262626" stroke="#262626" stroke-width="0.3" text-anchor="start" font-size="14.0" font-family="Liberation Serif">D1</text>
<text transform="translate(779.9 258.3) rotate(-90) translate(0 0) scale(0.94 1)" fill="#262626" stroke="#262626" stroke-width="0.3" text-anchor="middle" font-size="14.0" font-family="Liberation Serif">5</text>
<line x1="811.4" y1="214" x2="811.4" y2="272.7" stroke="#2A2A2A" stroke-width="1.4"/>
<text transform="translate(816.1 299) rotate(-90) translate(0 0) scale(0.94 1)" fill="#262626" stroke="#262626" stroke-width="0.3" text-anchor="start" font-size="14.0" font-family="Liberation Serif">D2</text>
<text transform="translate(809.4 258.3) rotate(-90) translate(0 0) scale(0.94 1)" fill="#262626" stroke="#262626" stroke-width="0.3" text-anchor="middle" font-size="14.0" font-family="Liberation Serif">6</text>
<line x1="840.9" y1="214" x2="840.9" y2="272.7" stroke="#2A2A2A" stroke-width="1.4"/>
<text transform="translate(845.6 299) rotate(-90) translate(0 0) scale(0.94 1)" fill="#262626" stroke="#262626" stroke-width="0.3" text-anchor="start" font-size="14.0" font-family="Liberation Serif">D3</text>
<text transform="translate(838.9 258.3) rotate(-90) translate(0 0) scale(0.94 1)" fill="#262626" stroke="#262626" stroke-width="0.3" text-anchor="middle" font-size="14.0" font-family="Liberation Serif">7</text>
<line x1="870.4" y1="214" x2="870.4" y2="272.7" stroke="#2A2A2A" stroke-width="1.4"/>
<text transform="translate(875.1 299) rotate(-90) translate(0 0) scale(0.94 1)" fill="#262626" stroke="#262626" stroke-width="0.3" text-anchor="start" font-size="14.0" font-family="Liberation Serif">D4</text>
<text transform="translate(868.4 258.3) rotate(-90) translate(0 0) scale(0.94 1)" fill="#262626" stroke="#262626" stroke-width="0.3" text-anchor="middle" font-size="14.0" font-family="Liberation Serif">8</text>
<line x1="781.9" y1="391" x2="781.9" y2="435.4" stroke="#2A2A2A" stroke-width="1.4"/>
<text transform="translate(786.6 380) rotate(-90) translate(0 0) scale(0.94 1)" fill="#262626" stroke="#262626" stroke-width="0.3" text-anchor="start" font-size="14.0" font-family="Liberation Serif">G</text>
<text transform="translate(779.9 405.7) rotate(-90) translate(0 0) scale(0.94 1)" fill="#262626" stroke="#262626" stroke-width="0.3" text-anchor="middle" font-size="14.0" font-family="Liberation Serif">4</text>
<line x1="811.4" y1="391" x2="811.4" y2="435.4" stroke="#2A2A2A" stroke-width="1.4"/>
<line x1="811.4" y1="435.4" x2="811.4" y2="479.5" stroke="#3D377F" stroke-width="1.4"/>
<text transform="translate(816.1 380) rotate(-90) translate(0 0) scale(0.94 1)" fill="#262626" stroke="#262626" stroke-width="0.3" text-anchor="start" font-size="14.0" font-family="Liberation Serif">S3</text>
<text transform="translate(809.4 405.7) rotate(-90) translate(0 0) scale(0.94 1)" fill="#262626" stroke="#262626" stroke-width="0.3" text-anchor="middle" font-size="14.0" font-family="Liberation Serif">3</text>
<line x1="840.9" y1="391" x2="840.9" y2="435.4" stroke="#2A2A2A" stroke-width="1.4"/>
<line x1="840.9" y1="435.4" x2="840.9" y2="479.5" stroke="#3D377F" stroke-width="1.4"/>
<text transform="translate(845.6 380) rotate(-90) translate(0 0) scale(0.94 1)" fill="#262626" stroke="#262626" stroke-width="0.3" text-anchor="start" font-size="14.0" font-family="Liberation Serif">S2</text>
<text transform="translate(838.9 405.7) rotate(-90) translate(0 0) scale(0.94 1)" fill="#262626" stroke="#262626" stroke-width="0.3" text-anchor="middle" font-size="14.0" font-family="Liberation Serif">2</text>
<line x1="870.4" y1="391" x2="870.4" y2="435.4" stroke="#2A2A2A" stroke-width="1.4"/>
<line x1="870.4" y1="435.4" x2="870.4" y2="479.5" stroke="#3D377F" stroke-width="1.4"/>
<text transform="translate(875.1 380) rotate(-90) translate(0 0) scale(0.94 1)" fill="#262626" stroke="#262626" stroke-width="0.3" text-anchor="start" font-size="14.0" font-family="Liberation Serif">S1</text>
<text transform="translate(868.4 405.7) rotate(-90) translate(0 0) scale(0.94 1)" fill="#262626" stroke="#262626" stroke-width="0.3" text-anchor="middle" font-size="14.0" font-family="Liberation Serif">1</text>
<line x1="693.2" y1="332" x2="752.4" y2="332" stroke="#2A2A2A" stroke-width="1.4"/>
<text transform="translate(736.5 329) translate(0 0) scale(0.94 1)" fill="#262626" stroke="#262626" stroke-width="0.3" text-anchor="middle" font-size="14.0" font-family="Liberation Serif">9</text>
<text transform="translate(762.2 336.7) translate(0 -0.9) scale(0.94 1)" fill="#1E1E50" stroke="#1E1E50" stroke-width="0.3" text-anchor="start" font-size="14.0" font-family="Liberation Serif">9</text>
<text transform="translate(776 336.7) translate(0 -0.9) scale(0.94 1)" fill="#1E1E50" stroke="#1E1E50" stroke-width="0.3" text-anchor="start" font-size="14.0" font-family="Liberation Serif">YJG40N50D3 DFN3*3</text>
<rect x="752.4" y="272.7" width="147.8" height="118.3" fill="none" stroke="#862E22" stroke-width="1.6"/>
<text transform="translate(900.6 284.3) translate(0 0) scale(0.94 1)" fill="#28287E" stroke="#28287E" stroke-width="0.3" text-anchor="start" font-size="14.0" font-family="Liberation Serif">Q2</text>
<line x1="722.7" y1="435.4" x2="781.5" y2="435.4" stroke="#3D377F" stroke-width="1.4"/>
<text transform="translate(722.7 432) translate(0 1) scale(0.94 1)" fill="#862626" stroke="#862626" stroke-width="0.3" text-anchor="start" font-size="14.0" font-family="Liberation Serif">HGATE</text>
<rect x="752.4" y="538.9" width="147.8" height="117.6" fill="#FDFBAA" stroke="#862E22" stroke-width="1.6"/>
<line x1="781.9" y1="479.5" x2="781.9" y2="538.9" stroke="#2A2A2A" stroke-width="1.4"/>
<text transform="translate(786.6 565) rotate(-90) translate(0 0) scale(0.94 1)" fill="#262626" stroke="#262626" stroke-width="0.3" text-anchor="start" font-size="14.0" font-family="Liberation Serif">D1</text>
<text transform="translate(779.9 523.4) rotate(-90) translate(0 0) scale(0.94 1)" fill="#262626" stroke="#262626" stroke-width="0.3" text-anchor="middle" font-size="14.0" font-family="Liberation Serif">5</text>
<line x1="811.4" y1="479.5" x2="811.4" y2="538.9" stroke="#2A2A2A" stroke-width="1.4"/>
<text transform="translate(816.1 565) rotate(-90) translate(0 0) scale(0.94 1)" fill="#262626" stroke="#262626" stroke-width="0.3" text-anchor="start" font-size="14.0" font-family="Liberation Serif">D2</text>
<text transform="translate(809.4 523.4) rotate(-90) translate(0 0) scale(0.94 1)" fill="#262626" stroke="#262626" stroke-width="0.3" text-anchor="middle" font-size="14.0" font-family="Liberation Serif">6</text>
<line x1="840.9" y1="479.5" x2="840.9" y2="538.9" stroke="#2A2A2A" stroke-width="1.4"/>
<text transform="translate(845.6 565) rotate(-90) translate(0 0) scale(0.94 1)" fill="#262626" stroke="#262626" stroke-width="0.3" text-anchor="start" font-size="14.0" font-family="Liberation Serif">D3</text>
<text transform="translate(838.9 523.4) rotate(-90) translate(0 0) scale(0.94 1)" fill="#262626" stroke="#262626" stroke-width="0.3" text-anchor="middle" font-size="14.0" font-family="Liberation Serif">7</text>
<line x1="870.4" y1="479.5" x2="870.4" y2="538.9" stroke="#2A2A2A" stroke-width="1.4"/>
<text transform="translate(875.1 565) rotate(-90) translate(0 0) scale(0.94 1)" fill="#262626" stroke="#262626" stroke-width="0.3" text-anchor="start" font-size="14.0" font-family="Liberation Serif">D4</text>
<text transform="translate(868.4 523.4) rotate(-90) translate(0 0) scale(0.94 1)" fill="#262626" stroke="#262626" stroke-width="0.3" text-anchor="middle" font-size="14.0" font-family="Liberation Serif">8</text>
<line x1="781.9" y1="656.5" x2="781.9" y2="700.6" stroke="#2A2A2A" stroke-width="1.4"/>
<line x1="781.9" y1="700.6" x2="781.9" y2="730.6" stroke="#3D377F" stroke-width="1.4"/>
<text transform="translate(786.6 646) rotate(-90) translate(0 0) scale(0.94 1)" fill="#262626" stroke="#262626" stroke-width="0.3" text-anchor="start" font-size="14.0" font-family="Liberation Serif">G</text>
<text transform="translate(779.9 670.4) rotate(-90) translate(0 0) scale(0.94 1)" fill="#262626" stroke="#262626" stroke-width="0.3" text-anchor="middle" font-size="14.0" font-family="Liberation Serif">4</text>
<line x1="811.4" y1="656.5" x2="811.4" y2="700.6" stroke="#2A2A2A" stroke-width="1.4"/>
<text transform="translate(816.1 646) rotate(-90) translate(0 0) scale(0.94 1)" fill="#262626" stroke="#262626" stroke-width="0.3" text-anchor="start" font-size="14.0" font-family="Liberation Serif">S3</text>
<text transform="translate(809.4 670.4) rotate(-90) translate(0 0) scale(0.94 1)" fill="#262626" stroke="#262626" stroke-width="0.3" text-anchor="middle" font-size="14.0" font-family="Liberation Serif">3</text>
<line x1="840.9" y1="656.5" x2="840.9" y2="700.6" stroke="#2A2A2A" stroke-width="1.4"/>
<text transform="translate(845.6 646) rotate(-90) translate(0 0) scale(0.94 1)" fill="#262626" stroke="#262626" stroke-width="0.3" text-anchor="start" font-size="14.0" font-family="Liberation Serif">S2</text>
<text transform="translate(838.9 670.4) rotate(-90) translate(0 0) scale(0.94 1)" fill="#262626" stroke="#262626" stroke-width="0.3" text-anchor="middle" font-size="14.0" font-family="Liberation Serif">2</text>
<line x1="870.4" y1="656.5" x2="870.4" y2="700.6" stroke="#2A2A2A" stroke-width="1.4"/>
<text transform="translate(875.1 646) rotate(-90) translate(0 0) scale(0.94 1)" fill="#262626" stroke="#262626" stroke-width="0.3" text-anchor="start" font-size="14.0" font-family="Liberation Serif">S1</text>
<text transform="translate(868.4 670.4) rotate(-90) translate(0 0) scale(0.94 1)" fill="#262626" stroke="#262626" stroke-width="0.3" text-anchor="middle" font-size="14.0" font-family="Liberation Serif">1</text>
<line x1="811.4" y1="700.6" x2="870.4" y2="700.6" stroke="#3D377F" stroke-width="1.4"/>
<line x1="840.9" y1="705.6" x2="840.9" y2="715.6" stroke="#862626" stroke-width="1.4"/>
<line x1="825.9" y1="715.6" x2="855.9" y2="715.6" stroke="#862626" stroke-width="1.45"/>
<line x1="830.9" y1="720.2" x2="850.9" y2="720.2" stroke="#862626" stroke-width="1.45"/>
<line x1="835.15" y1="724.8" x2="846.65" y2="724.8" stroke="#862626" stroke-width="1.45"/>
<line x1="839.9" y1="729.1" x2="841.9" y2="729.1" stroke="#862626" stroke-width="1.45"/>
<text transform="translate(840.9 742) translate(0 -0.1) scale(0.94 1)" fill="#862626" stroke="#862626" stroke-width="0.3" text-anchor="middle" font-size="14.0" font-family="Liberation Serif">GND</text>
<text transform="translate(737.7 594.8) translate(0 0) scale(0.94 1)" fill="#262626" stroke="#262626" stroke-width="0.3" text-anchor="middle" font-size="14.0" font-family="Liberation Serif">9</text>
<text transform="translate(762.6 602.6) translate(0 -0.9) scale(0.94 1)" fill="#1E1E50" stroke="#1E1E50" stroke-width="0.3" text-anchor="start" font-size="14.0" font-family="Liberation Serif">9</text>
<text transform="translate(767.2 617) translate(0 0) scale(0.94 1)" fill="#1E1E50" stroke="#1E1E50" stroke-width="0.3" text-anchor="start" font-size="14.0" font-family="Liberation Serif">YJG40N50D3 DFN3*3</text>
<text transform="translate(900.4 549.9) translate(0 0) scale(0.94 1)" fill="#28287E" stroke="#28287E" stroke-width="0.3" text-anchor="start" font-size="14.0" font-family="Liberation Serif">Q3</text>
<text transform="translate(779.6 730.5) rotate(-90) translate(0 1) scale(0.94 1)" fill="#862626" stroke="#862626" stroke-width="0.3" text-anchor="start" font-size="14.0" font-family="Liberation Serif">LGATE</text>
<path d="M929.4,479.5 M929.4,479.5 C929.7,470 943.8,470 944.1,479.5 M944.1,479.5 C944.4,470 958.5,470 958.8,479.5 M958.8,479.5 C959.1,470 973.2,470 973.5,479.5 M973.5,479.5 C973.8,470 987.9,470 988.2,479.5" fill="none" stroke="#2323C8" stroke-width="1.6"/>
<text transform="translate(944.8 447.3) translate(0 0) scale(0.9 1)" fill="#28287E" stroke="#28287E" stroke-width="0.3" text-anchor="start" font-size="14.2" font-family="Liberation Sans">L2</text>
<text transform="translate(944.1 461.7) translate(0 0) scale(0.9 1)" fill="#28287E" stroke="#28287E" stroke-width="0.3" text-anchor="start" font-size="14.2" font-family="Liberation Sans">22uH</text>
<polyline points="899.5,479.5 899.5,523.7 944.2,523.7 944.2,598.4" fill="none" stroke="#3D377F" stroke-width="1.4" stroke-linejoin="miter"/>
<polyline points="944.2,598.4 948.5,602.5 939.9,610.7 948.5,618.9 939.9,627.1 948.5,635.3 944.2,639.4" fill="none" stroke="#2323C8" stroke-width="1.5" stroke-linejoin="miter"/>
<line x1="944.2" y1="639.4" x2="944.2" y2="675.7" stroke="#3D377F" stroke-width="1.4"/>
<line x1="932.2" y1="675.7" x2="956.2" y2="675.7" stroke="#2323C8" stroke-width="1.35"/>
<line x1="932.2" y1="681" x2="956.2" y2="681" stroke="#2323C8" stroke-width="1.35"/>
<line x1="944.2" y1="681" x2="944.2" y2="715.6" stroke="#3D377F" stroke-width="1.4"/>
<line x1="944.2" y1="705.6" x2="944.2" y2="715.6" stroke="#862626" stroke-width="1.4"/>
<line x1="929.2" y1="715.6" x2="959.2" y2="715.6" stroke="#862626" stroke-width="1.45"/>
<line x1="934.2" y1="720.2" x2="954.2" y2="720.2" stroke="#862626" stroke-width="1.45"/>
<line x1="938.45" y1="724.8" x2="949.95" y2="724.8" stroke="#862626" stroke-width="1.45"/>
<line x1="943.2" y1="729.1" x2="945.2" y2="729.1" stroke="#862626" stroke-width="1.45"/>
<text transform="translate(944.2 742) translate(0 -0.1) scale(0.94 1)" fill="#862626" stroke="#862626" stroke-width="0.3" text-anchor="middle" font-size="14.0" font-family="Liberation Serif">GND</text>
<text transform="translate(951.2 618.7) translate(0 0) scale(0.94 1)" fill="#28287E" stroke="#28287E" stroke-width="0.3" text-anchor="start" font-size="14.0" font-family="Liberation Serif">R22</text>
<text transform="translate(951 632.7) translate(0 0) scale(0.94 1)" fill="#28287E" stroke="#28287E" stroke-width="0.3" text-anchor="start" font-size="14.0" font-family="Liberation Serif">4.7R</text>
<text transform="translate(957.2 683) translate(0 0) scale(0.94 1)" fill="#28287E" stroke="#28287E" stroke-width="0.3" text-anchor="start" font-size="14.0" font-family="Liberation Serif">C24</text>
<text transform="translate(957.9 697) translate(0 0) scale(0.94 1)" fill="#28287E" stroke="#28287E" stroke-width="0.3" text-anchor="start" font-size="14.0" font-family="Liberation Serif">1nF/50V</text>
<line x1="1017.2" y1="479.5" x2="1017.2" y2="528.7" stroke="#3D377F" stroke-width="1.4"/>
<line x1="1005.2" y1="528.7" x2="1029.2" y2="528.7" stroke="#2323C8" stroke-width="1.35"/>
<line x1="1005.2" y1="534" x2="1029.2" y2="534" stroke="#2323C8" stroke-width="1.35"/>
<line x1="1017.2" y1="534" x2="1017.2" y2="597.3" stroke="#3D377F" stroke-width="1.4"/>
<line x1="1017.2" y1="587.3" x2="1017.2" y2="597.3" stroke="#862626" stroke-width="1.4"/>
<line x1="1002.2" y1="597.3" x2="1032.2" y2="597.3" stroke="#862626" stroke-width="1.45"/>
<line x1="1007.2" y1="601.9" x2="1027.2" y2="601.9" stroke="#862626" stroke-width="1.45"/>
<line x1="1011.45" y1="606.5" x2="1022.95" y2="606.5" stroke="#862626" stroke-width="1.45"/>
<line x1="1016.2" y1="610.8" x2="1018.2" y2="610.8" stroke="#862626" stroke-width="1.45"/>
<text transform="translate(1017.2 623.7) translate(0 -0.1) scale(0.94 1)" fill="#862626" stroke="#862626" stroke-width="0.3" text-anchor="middle" font-size="14.0" font-family="Liberation Serif">GND</text>
<polyline points="1017.2,568 1195,568 1195,531.5" fill="none" stroke="#3D377F" stroke-width="1.4" stroke-linejoin="miter"/>
<line x1="1106.1" y1="479.5" x2="1106.1" y2="528.5" stroke="#3D377F" stroke-width="1.4"/>
<line x1="1094.1" y1="528.5" x2="1118.1" y2="528.5" stroke="#2323C8" stroke-width="1.35"/>
<line x1="1094.1" y1="534.1" x2="1118.1" y2="534.1" stroke="#2323C8" stroke-width="1.35"/>
<line x1="1106.1" y1="534.1" x2="1106.1" y2="568" stroke="#3D377F" stroke-width="1.4"/>
<line x1="1195" y1="479.5" x2="1195" y2="524" stroke="#3D377F" stroke-width="1.4"/>
<line x1="1182.6" y1="524" x2="1206.6" y2="524" stroke="#2323C8" stroke-width="1.6"/>
<path d="M1182.6,533.6 Q1195,525.5 1207,533.6" fill="none" stroke="#2323C8" stroke-width="1.6"/>
<text transform="translate(1121.2 535.7) translate(0 0) scale(0.94 1)" fill="#28287E" stroke="#28287E" stroke-width="0.3" text-anchor="start" font-size="14.0" font-family="Liberation Serif">C22</text>
<text transform="translate(1113.6 550.4) translate(0 0) scale(0.94 1)" fill="#28287E" stroke="#28287E" stroke-width="0.3" text-anchor="start" font-size="14.0" font-family="Liberation Serif">22uF/25V</text>
<text transform="translate(1209.8 535.7) translate(0 0) scale(0.94 1)" fill="#28287E" stroke="#28287E" stroke-width="0.3" text-anchor="start" font-size="14.0" font-family="Liberation Serif">EC8</text>
<text transform="translate(1202.7 550.4) translate(0 0) scale(0.94 1)" fill="#28287E" stroke="#28287E" stroke-width="0.3" text-anchor="start" font-size="14.0" font-family="Liberation Serif">220uF/25V/5.5*9</text>
<text transform="translate(1032.5 535.5) translate(0 0) scale(0.94 1)" fill="#28287E" stroke="#28287E" stroke-width="0.3" text-anchor="start" font-size="14.0" font-family="Liberation Serif">C21</text>
<text transform="translate(1025 550.7) translate(0 0) scale(0.94 1)" fill="#28287E" stroke="#28287E" stroke-width="0.3" text-anchor="start" font-size="14.0" font-family="Liberation Serif">NC</text>
<line x1="1209.8" y1="214" x2="1209.8" y2="336.3" stroke="#3D377F" stroke-width="1.4"/>
<line x1="1197.8" y1="336.3" x2="1221.8" y2="336.3" stroke="#2323C8" stroke-width="1.35"/>
<line x1="1197.8" y1="341.8" x2="1221.8" y2="341.8" stroke="#2323C8" stroke-width="1.35"/>
<line x1="1209.8" y1="341.8" x2="1209.8" y2="479.5" stroke="#3D377F" stroke-width="1.4"/>
<text transform="translate(1224.4 329.2) translate(0 0) scale(0.94 1)" fill="#28287E" stroke="#28287E" stroke-width="0.3" text-anchor="start" font-size="14.0" font-family="Liberation Serif">C13</text>
<text transform="translate(1224.4 344.1) translate(0 0) scale(0.94 1)" fill="#28287E" stroke="#28287E" stroke-width="0.3" text-anchor="start" font-size="14.0" font-family="Liberation Serif">NC</text>
<text transform="translate(1239.3 476.5) translate(0 1) scale(0.94 1)" fill="#862626" stroke="#862626" stroke-width="0.3" text-anchor="start" font-size="14.0" font-family="Liberation Serif">CSPC</text>
<line x1="1016" y1="214" x2="1016" y2="245.4" stroke="#3D377F" stroke-width="1.4"/>
<line x1="1004" y1="245.4" x2="1028" y2="245.4" stroke="#2323C8" stroke-width="1.35"/>
<line x1="1004" y1="250.7" x2="1028" y2="250.7" stroke="#2323C8" stroke-width="1.35"/>
<polyline points="1016,250.7 1016,287.4 1121,287.4" fill="none" stroke="#3D377F" stroke-width="1.4" stroke-linejoin="miter"/>
<line x1="1121" y1="214" x2="1121" y2="248.5" stroke="#3D377F" stroke-width="1.4"/>
<line x1="1109" y1="248.5" x2="1133" y2="248.5" stroke="#2323C8" stroke-width="1.35"/>
<line x1="1109" y1="253.6" x2="1133" y2="253.6" stroke="#2323C8" stroke-width="1.35"/>
<line x1="1121" y1="253.6" x2="1121" y2="302" stroke="#3D377F" stroke-width="1.4"/>
<line x1="1121" y1="292" x2="1121" y2="302" stroke="#862626" stroke-width="1.4"/>
<line x1="1106" y1="302" x2="1136" y2="302" stroke="#862626" stroke-width="1.45"/>
<line x1="1111" y1="306.6" x2="1131" y2="306.6" stroke="#862626" stroke-width="1.45"/>
<line x1="1115.25" y1="311.2" x2="1126.75" y2="311.2" stroke="#862626" stroke-width="1.45"/>
<line x1="1120" y1="315.5" x2="1122" y2="315.5" stroke="#862626" stroke-width="1.45"/>
<text transform="translate(1121 328.4) translate(0 -0.1) scale(0.94 1)" fill="#862626" stroke="#862626" stroke-width="0.3" text-anchor="middle" font-size="14.0" font-family="Liberation Serif">GND</text>
<text transform="translate(1030.8 237.9) translate(0 0) scale(0.94 1)" fill="#28287E" stroke="#28287E" stroke-width="0.3" text-anchor="start" font-size="14.0" font-family="Liberation Serif">C29</text>
<text transform="translate(1030.8 253.2) translate(0 0) scale(0.94 1)" fill="#28287E" stroke="#28287E" stroke-width="0.3" text-anchor="start" font-size="14.0" font-family="Liberation Serif">0.1uF/25V</text>
<text transform="translate(1136.3 240.6) translate(0 0) scale(0.94 1)" fill="#28287E" stroke="#28287E" stroke-width="0.3" text-anchor="start" font-size="14.0" font-family="Liberation Serif">C7</text>
<text transform="translate(1136.3 255.4) translate(0 0) scale(0.94 1)" fill="#28287E" stroke="#28287E" stroke-width="0.3" text-anchor="start" font-size="14.0" font-family="Liberation Serif">22uF/25V</text>
<text transform="translate(1136.7 211) translate(0 1) scale(0.94 1)" fill="#862626" stroke="#862626" stroke-width="0.3" text-anchor="start" font-size="14.0" font-family="Liberation Serif">Vo</text>
<line x1="1259" y1="214" x2="1268.8" y2="214" stroke="#862626" stroke-width="1.4"/>
<line x1="1268.8" y1="207" x2="1268.8" y2="221.4" stroke="#862626" stroke-width="1.6"/>
<text transform="translate(1272.1 218.9) translate(0 1) scale(0.94 1)" fill="#862626" stroke="#862626" stroke-width="0.3" text-anchor="start" font-size="14.0" font-family="Liberation Serif">Vo1</text>
<polyline points="1283.3,479.5 1283.3,435.4 1332.5,435.4" fill="none" stroke="#3D377F" stroke-width="1.4" stroke-linejoin="miter"/>
<polyline points="1338,435.4 1386.9,435.4 1386.9,479.5" fill="none" stroke="#3D377F" stroke-width="1.4" stroke-linejoin="miter"/>
<line x1="1332.5" y1="424.15" x2="1332.5" y2="446.65" stroke="#2323C8" stroke-width="1.35"/>
<line x1="1338" y1="424.15" x2="1338" y2="446.65" stroke="#2323C8" stroke-width="1.35"/>
<polyline points="1313.9,479.5 1318.21,474.8 1326.83,484.2 1335.45,474.8 1344.07,484.2 1352.69,474.8 1357,479.5" fill="none" stroke="#2323C8" stroke-width="1.5" stroke-linejoin="miter"/>
<text transform="translate(1327.5 403.2) translate(0 0) scale(0.94 1)" fill="#28287E" stroke="#28287E" stroke-width="0.3" text-anchor="start" font-size="14.0" font-family="Liberation Serif">C16</text>
<text transform="translate(1313 418.2) translate(0 0) scale(0.94 1)" fill="#28287E" stroke="#28287E" stroke-width="0.3" text-anchor="start" font-size="14.0" font-family="Liberation Serif">0.1uF/25V</text>
<text transform="translate(1320.1 506.1) translate(0 0) scale(0.94 1)" fill="#28287E" stroke="#28287E" stroke-width="0.3" text-anchor="start" font-size="14.0" font-family="Liberation Serif">R21</text>
<text transform="translate(1313.5 521.1) translate(0 0) scale(0.94 1)" fill="#28287E" stroke="#28287E" stroke-width="0.3" text-anchor="start" font-size="14.0" font-family="Liberation Serif">5mR 1%</text>
<text transform="translate(1397.5 476.4) translate(0 1) scale(0.94 1)" fill="#862626" stroke="#862626" stroke-width="0.3" text-anchor="start" font-size="14.0" font-family="Liberation Serif">CSNC</text>
<text transform="translate(1491.1 476.4) translate(0 1) scale(0.94 1)" fill="#862626" stroke="#862626" stroke-width="0.3" text-anchor="start" font-size="14.0" font-family="Liberation Serif">VBUSC</text>
<line x1="1431" y1="479.5" x2="1431" y2="514" stroke="#3D377F" stroke-width="1.4"/>
<line x1="1419" y1="514" x2="1443" y2="514" stroke="#2323C8" stroke-width="1.35"/>
<line x1="1419" y1="519.3" x2="1443" y2="519.3" stroke="#2323C8" stroke-width="1.35"/>
<line x1="1431" y1="519.3" x2="1431" y2="568.1" stroke="#3D377F" stroke-width="1.4"/>
<line x1="1431" y1="558.1" x2="1431" y2="568.1" stroke="#862626" stroke-width="1.4"/>
<line x1="1416" y1="568.1" x2="1446" y2="568.1" stroke="#862626" stroke-width="1.45"/>
<line x1="1421" y1="572.7" x2="1441" y2="572.7" stroke="#862626" stroke-width="1.45"/>
<line x1="1425.25" y1="577.3" x2="1436.75" y2="577.3" stroke="#862626" stroke-width="1.45"/>
<line x1="1430" y1="581.6" x2="1432" y2="581.6" stroke="#862626" stroke-width="1.45"/>
<text transform="translate(1431 594.5) translate(0 -0.1) scale(0.94 1)" fill="#862626" stroke="#862626" stroke-width="0.3" text-anchor="middle" font-size="14.0" font-family="Liberation Serif">GND</text>
<text transform="translate(1446.3 506.1) translate(0 0) scale(0.94 1)" fill="#28287E" stroke="#28287E" stroke-width="0.3" text-anchor="start" font-size="14.0" font-family="Liberation Serif">C20</text>
<text transform="translate(1446.3 521.1) translate(0 0) scale(0.94 1)" fill="#28287E" stroke="#28287E" stroke-width="0.3" text-anchor="start" font-size="14.0" font-family="Liberation Serif">10uF/25V</text>
<line x1="1342.1" y1="258.2" x2="1401.4" y2="258.2" stroke="#3D377F" stroke-width="1.4"/>
<polyline points="1401.4,258.2 1405.88,262.7 1414.84,253.7 1423.8,262.7 1432.76,253.7 1441.72,262.7 1446.2,258.2" fill="none" stroke="#2323C8" stroke-width="1.5" stroke-linejoin="miter"/>
<line x1="1446.2" y1="258.2" x2="1505.5" y2="258.2" stroke="#3D377F" stroke-width="1.4"/>
<text transform="translate(1342.6 255.6) translate(0 1) scale(0.94 1)" fill="#862626" stroke="#862626" stroke-width="0.3" text-anchor="start" font-size="14.0" font-family="Liberation Serif">CC1</text>
<text transform="translate(1461 255.6) translate(0 1) scale(0.94 1)" fill="#862626" stroke="#862626" stroke-width="0.3" text-anchor="start" font-size="14.0" font-family="Liberation Serif">CC1 R</text>
<text transform="translate(1400.2 250.7) translate(0 0) scale(0.94 1)" fill="#28287E" stroke="#28287E" stroke-width="0.3" text-anchor="start" font-size="14.0" font-family="Liberation Serif">R9</text>
<text transform="translate(1400.2 275.8) translate(0 0) scale(0.94 1)" fill="#28287E" stroke="#28287E" stroke-width="0.3" text-anchor="start" font-size="14.0" font-family="Liberation Serif">22R</text>
<line x1="1342.1" y1="331.6" x2="1401.4" y2="331.6" stroke="#3D377F" stroke-width="1.4"/>
<polyline points="1401.4,331.6 1405.88,336.1 1414.84,327.1 1423.8,336.1 1432.76,327.1 1441.72,336.1 1446.2,331.6" fill="none" stroke="#2323C8" stroke-width="1.5" stroke-linejoin="miter"/>
<line x1="1446.2" y1="331.6" x2="1505.5" y2="331.6" stroke="#3D377F" stroke-width="1.4"/>
<text transform="translate(1342.6 329) translate(0 1) scale(0.94 1)" fill="#862626" stroke="#862626" stroke-width="0.3" text-anchor="start" font-size="14.0" font-family="Liberation Serif">CC2</text>
<text transform="translate(1461 329) translate(0 1) scale(0.94 1)" fill="#862626" stroke="#862626" stroke-width="0.3" text-anchor="start" font-size="14.0" font-family="Liberation Serif">CC2 R</text>
<text transform="translate(1400.2 324.1) translate(0 0) scale(0.94 1)" fill="#28287E" stroke="#28287E" stroke-width="0.3" text-anchor="start" font-size="14.0" font-family="Liberation Serif">R13</text>
<text transform="translate(1400.2 349.2) translate(0 0) scale(0.94 1)" fill="#28287E" stroke="#28287E" stroke-width="0.3" text-anchor="start" font-size="14.0" font-family="Liberation Serif">22R</text>
<line x1="1563.9" y1="242.9" x2="1563.9" y2="291.9" stroke="#3D377F" stroke-width="1.4"/>
<line x1="1551.9" y1="291.9" x2="1575.9" y2="291.9" stroke="#2323C8" stroke-width="1.35"/>
<line x1="1551.9" y1="298" x2="1575.9" y2="298" stroke="#2323C8" stroke-width="1.35"/>
<line x1="1563.9" y1="298" x2="1563.9" y2="331.9" stroke="#3D377F" stroke-width="1.4"/>
<line x1="1563.9" y1="321.9" x2="1563.9" y2="331.9" stroke="#862626" stroke-width="1.4"/>
<line x1="1548.9" y1="331.9" x2="1578.9" y2="331.9" stroke="#862626" stroke-width="1.45"/>
<line x1="1553.9" y1="336.5" x2="1573.9" y2="336.5" stroke="#862626" stroke-width="1.45"/>
<line x1="1558.15" y1="341.1" x2="1569.65" y2="341.1" stroke="#862626" stroke-width="1.45"/>
<line x1="1562.9" y1="345.4" x2="1564.9" y2="345.4" stroke="#862626" stroke-width="1.45"/>
<text transform="translate(1563.9 358.3) translate(0 -0.1) scale(0.94 1)" fill="#862626" stroke="#862626" stroke-width="0.3" text-anchor="middle" font-size="14.0" font-family="Liberation Serif">GND</text>
<text transform="translate(1561 272.8) rotate(-90) translate(0 1) scale(0.94 1)" fill="#862626" stroke="#862626" stroke-width="0.3" text-anchor="start" font-size="14.0" font-family="Liberation Serif">DPC</text>
<text transform="translate(1579.2 285) translate(0 0) scale(0.94 1)" fill="#28287E" stroke="#28287E" stroke-width="0.3" text-anchor="start" font-size="14.0" font-family="Liberation Serif">C8</text>
<text transform="translate(1579.2 300.1) translate(0 0) scale(0.94 1)" fill="#28287E" stroke="#28287E" stroke-width="0.3" text-anchor="start" font-size="14.0" font-family="Liberation Serif">100pF/16V</text>
<line x1="1667.3" y1="242.9" x2="1667.3" y2="291.9" stroke="#3D377F" stroke-width="1.4"/>
<line x1="1655.3" y1="291.9" x2="1679.3" y2="291.9" stroke="#2323C8" stroke-width="1.35"/>
<line x1="1655.3" y1="298" x2="1679.3" y2="298" stroke="#2323C8" stroke-width="1.35"/>
<line x1="1667.3" y1="298" x2="1667.3" y2="331.9" stroke="#3D377F" stroke-width="1.4"/>
<line x1="1667.3" y1="321.9" x2="1667.3" y2="331.9" stroke="#862626" stroke-width="1.4"/>
<line x1="1652.3" y1="331.9" x2="1682.3" y2="331.9" stroke="#862626" stroke-width="1.45"/>
<line x1="1657.3" y1="336.5" x2="1677.3" y2="336.5" stroke="#862626" stroke-width="1.45"/>
<line x1="1661.55" y1="341.1" x2="1673.05" y2="341.1" stroke="#862626" stroke-width="1.45"/>
<line x1="1666.3" y1="345.4" x2="1668.3" y2="345.4" stroke="#862626" stroke-width="1.45"/>
<text transform="translate(1667.3 358.3) translate(0 -0.1) scale(0.94 1)" fill="#862626" stroke="#862626" stroke-width="0.3" text-anchor="middle" font-size="14.0" font-family="Liberation Serif">GND</text>
<text transform="translate(1664.4 272.8) rotate(-90) translate(0 1) scale(0.94 1)" fill="#862626" stroke="#862626" stroke-width="0.3" text-anchor="start" font-size="14.0" font-family="Liberation Serif">DMC</text>
<text transform="translate(1682.6 285) translate(0 0) scale(0.94 1)" fill="#28287E" stroke="#28287E" stroke-width="0.3" text-anchor="start" font-size="14.0" font-family="Liberation Serif">C9</text>
<text transform="translate(1682.6 300.1) translate(0 0) scale(0.94 1)" fill="#28287E" stroke="#28287E" stroke-width="0.3" text-anchor="start" font-size="14.0" font-family="Liberation Serif">100pF/16V</text>
<rect x="1652.7" y="450.5" width="73.8" height="191.5" fill="#FDFBAA" stroke="#862E22" stroke-width="1.6"/>
<line x1="1603" y1="464.6" x2="1652.7" y2="464.6" stroke="#2A2A2A" stroke-width="1.4"/>
<text transform="translate(1641.4 461.6) translate(0 0) scale(0.94 1)" fill="#262626" stroke="#262626" stroke-width="0.3" text-anchor="end" font-size="14.0" font-family="Liberation Serif">B1</text>
<text transform="translate(1663.4 469.1) translate(0 -0.6) scale(0.94 1)" fill="#262626" stroke="#262626" stroke-width="0.3" text-anchor="start" font-size="14.0" font-family="Liberation Serif">B1</text>
<polyline points="1603,464.6 1564.3,464.6 1564.3,450.3" fill="none" stroke="#3D377F" stroke-width="1.4" stroke-linejoin="miter"/>
<line x1="1603" y1="479.4" x2="1652.7" y2="479.4" stroke="#2A2A2A" stroke-width="1.4"/>
<text transform="translate(1641.4 476.4) translate(0 0) scale(0.94 1)" fill="#262626" stroke="#262626" stroke-width="0.3" text-anchor="end" font-size="14.0" font-family="Liberation Serif">B4</text>
<text transform="translate(1663.4 483.9) translate(0 -0.6) scale(0.94 1)" fill="#262626" stroke="#262626" stroke-width="0.3" text-anchor="start" font-size="14.0" font-family="Liberation Serif">B4</text>
<line x1="1603" y1="494.2" x2="1652.7" y2="494.2" stroke="#2A2A2A" stroke-width="1.4"/>
<text transform="translate(1641.4 491.2) translate(0 0) scale(0.94 1)" fill="#262626" stroke="#262626" stroke-width="0.3" text-anchor="end" font-size="14.0" font-family="Liberation Serif">B5</text>
<text transform="translate(1663.4 498.7) translate(0 -0.6) scale(0.94 1)" fill="#262626" stroke="#262626" stroke-width="0.3" text-anchor="start" font-size="14.0" font-family="Liberation Serif">B5</text>
<line x1="1549.3" y1="494.2" x2="1603" y2="494.2" stroke="#3D377F" stroke-width="1.4"/>
<line x1="1603" y1="509" x2="1652.7" y2="509" stroke="#2A2A2A" stroke-width="1.4"/>
<text transform="translate(1641.4 506) translate(0 0) scale(0.94 1)" fill="#262626" stroke="#262626" stroke-width="0.3" text-anchor="end" font-size="14.0" font-family="Liberation Serif">A8</text>
<text transform="translate(1663.4 513.5) translate(0 -0.6) scale(0.94 1)" fill="#262626" stroke="#262626" stroke-width="0.3" text-anchor="start" font-size="14.0" font-family="Liberation Serif">A8</text>
<line x1="1549.3" y1="509" x2="1603" y2="509" stroke="#3D377F" stroke-width="1.4"/>
<line x1="1603" y1="523.8" x2="1652.7" y2="523.8" stroke="#2A2A2A" stroke-width="1.4"/>
<text transform="translate(1641.4 520.8) translate(0 0) scale(0.94 1)" fill="#262626" stroke="#262626" stroke-width="0.3" text-anchor="end" font-size="14.0" font-family="Liberation Serif">B6</text>
<text transform="translate(1663.4 528.3) translate(0 -0.6) scale(0.94 1)" fill="#262626" stroke="#262626" stroke-width="0.3" text-anchor="start" font-size="14.0" font-family="Liberation Serif">B6</text>
<line x1="1549.3" y1="523.8" x2="1603" y2="523.8" stroke="#3D377F" stroke-width="1.4"/>
<line x1="1603" y1="538.6" x2="1652.7" y2="538.6" stroke="#2A2A2A" stroke-width="1.4"/>
<text transform="translate(1641.4 535.6) translate(0 0) scale(0.94 1)" fill="#262626" stroke="#262626" stroke-width="0.3" text-anchor="end" font-size="14.0" font-family="Liberation Serif">A7</text>
<text transform="translate(1663.4 543.1) translate(0 -0.6) scale(0.94 1)" fill="#262626" stroke="#262626" stroke-width="0.3" text-anchor="start" font-size="14.0" font-family="Liberation Serif">A7</text>
<line x1="1549.3" y1="538.6" x2="1603" y2="538.6" stroke="#3D377F" stroke-width="1.4"/>
<line x1="1603" y1="553.4" x2="1652.7" y2="553.4" stroke="#2A2A2A" stroke-width="1.4"/>
<text transform="translate(1641.4 550.4) translate(0 0) scale(0.94 1)" fill="#262626" stroke="#262626" stroke-width="0.3" text-anchor="end" font-size="14.0" font-family="Liberation Serif">A6</text>
<text transform="translate(1663.4 557.9) translate(0 -0.6) scale(0.94 1)" fill="#262626" stroke="#262626" stroke-width="0.3" text-anchor="start" font-size="14.0" font-family="Liberation Serif">A6</text>
<line x1="1549.3" y1="553.4" x2="1603" y2="553.4" stroke="#3D377F" stroke-width="1.4"/>
<line x1="1603" y1="568.2" x2="1652.7" y2="568.2" stroke="#2A2A2A" stroke-width="1.4"/>
<text transform="translate(1641.4 565.2) translate(0 0) scale(0.94 1)" fill="#262626" stroke="#262626" stroke-width="0.3" text-anchor="end" font-size="14.0" font-family="Liberation Serif">B7</text>
<text transform="translate(1663.4 572.7) translate(0 -0.6) scale(0.94 1)" fill="#262626" stroke="#262626" stroke-width="0.3" text-anchor="start" font-size="14.0" font-family="Liberation Serif">B7</text>
<line x1="1549.3" y1="568.2" x2="1603" y2="568.2" stroke="#3D377F" stroke-width="1.4"/>
<line x1="1603" y1="583" x2="1652.7" y2="583" stroke="#2A2A2A" stroke-width="1.4"/>
<text transform="translate(1641.4 580) translate(0 0) scale(0.94 1)" fill="#262626" stroke="#262626" stroke-width="0.3" text-anchor="end" font-size="14.0" font-family="Liberation Serif">A5</text>
<text transform="translate(1663.4 587.5) translate(0 -0.6) scale(0.94 1)" fill="#262626" stroke="#262626" stroke-width="0.3" text-anchor="start" font-size="14.0" font-family="Liberation Serif">A5</text>
<line x1="1549.3" y1="583" x2="1603" y2="583" stroke="#3D377F" stroke-width="1.4"/>
<line x1="1603" y1="597.8" x2="1652.7" y2="597.8" stroke="#2A2A2A" stroke-width="1.4"/>
<text transform="translate(1641.4 594.8) translate(0 0) scale(0.94 1)" fill="#262626" stroke="#262626" stroke-width="0.3" text-anchor="end" font-size="14.0" font-family="Liberation Serif">B8</text>
<text transform="translate(1663.4 602.3) translate(0 -0.6) scale(0.94 1)" fill="#262626" stroke="#262626" stroke-width="0.3" text-anchor="start" font-size="14.0" font-family="Liberation Serif">B8</text>
<line x1="1549.3" y1="597.8" x2="1603" y2="597.8" stroke="#3D377F" stroke-width="1.4"/>
<line x1="1603" y1="612.6" x2="1652.7" y2="612.6" stroke="#2A2A2A" stroke-width="1.4"/>
<text transform="translate(1641.4 609.6) translate(0 0) scale(0.94 1)" fill="#262626" stroke="#262626" stroke-width="0.3" text-anchor="end" font-size="14.0" font-family="Liberation Serif">A4</text>
<text transform="translate(1663.4 617.1) translate(0 -0.6) scale(0.94 1)" fill="#262626" stroke="#262626" stroke-width="0.3" text-anchor="start" font-size="14.0" font-family="Liberation Serif">A4</text>
<line x1="1549.3" y1="612.6" x2="1603" y2="612.6" stroke="#3D377F" stroke-width="1.4"/>
<line x1="1603" y1="627.4" x2="1652.7" y2="627.4" stroke="#2A2A2A" stroke-width="1.4"/>
<text transform="translate(1641.4 624.4) translate(0 0) scale(0.94 1)" fill="#262626" stroke="#262626" stroke-width="0.3" text-anchor="end" font-size="14.0" font-family="Liberation Serif">A1</text>
<text transform="translate(1663.4 631.9) translate(0 -0.6) scale(0.94 1)" fill="#262626" stroke="#262626" stroke-width="0.3" text-anchor="start" font-size="14.0" font-family="Liberation Serif">A1</text>
<line x1="1549.3" y1="627.4" x2="1603" y2="627.4" stroke="#3D377F" stroke-width="1.4"/>
<line x1="1564.3" y1="460.3" x2="1564.3" y2="450.3" stroke="#862626" stroke-width="1.4"/>
<line x1="1549.3" y1="450.3" x2="1579.3" y2="450.3" stroke="#862626" stroke-width="1.45"/>
<line x1="1554.05" y1="445.9" x2="1574.55" y2="445.9" stroke="#862626" stroke-width="1.45"/>
<line x1="1557.55" y1="441.3" x2="1571.05" y2="441.3" stroke="#862626" stroke-width="1.45"/>
<line x1="1562.3" y1="436.9" x2="1566.3" y2="436.9" stroke="#862626" stroke-width="1.45"/>
<text transform="translate(1564.3 432.3) translate(0 -0.2) scale(0.94 1)" fill="#862626" stroke="#862626" stroke-width="0.3" text-anchor="middle" font-size="14.0" font-family="Liberation Serif">GND</text>
<polyline points="1549.3,627.4 1549.3,641.8" fill="none" stroke="#3D377F" stroke-width="1.4" stroke-linejoin="miter"/>
<line x1="1549.3" y1="631.8" x2="1549.3" y2="641.8" stroke="#862626" stroke-width="1.4"/>
<line x1="1534.3" y1="641.8" x2="1564.3" y2="641.8" stroke="#862626" stroke-width="1.45"/>
<line x1="1539.3" y1="646.4" x2="1559.3" y2="646.4" stroke="#862626" stroke-width="1.45"/>
<line x1="1543.55" y1="651" x2="1555.05" y2="651" stroke="#862626" stroke-width="1.45"/>
<line x1="1548.3" y1="655.3" x2="1550.3" y2="655.3" stroke="#862626" stroke-width="1.45"/>
<text transform="translate(1549.3 668.2) translate(0 -0.1) scale(0.94 1)" fill="#862626" stroke="#862626" stroke-width="0.3" text-anchor="middle" font-size="14.0" font-family="Liberation Serif">GND</text>
<text transform="translate(1549.8 476) translate(0 1) scale(0.94 1)" fill="#862626" stroke="#862626" stroke-width="0.3" text-anchor="start" font-size="14.0" font-family="Liberation Serif">VBUSC</text>
<text transform="translate(1549.8 490.8) translate(0 1) scale(0.94 1)" fill="#862626" stroke="#862626" stroke-width="0.3" text-anchor="start" font-size="14.0" font-family="Liberation Serif">CC2 R</text>
<text transform="translate(1549.8 520.4) translate(0 1) scale(0.94 1)" fill="#862626" stroke="#862626" stroke-width="0.3" text-anchor="start" font-size="14.0" font-family="Liberation Serif">DPC</text>
<text transform="translate(1549.8 535.2) translate(0 1) scale(0.94 1)" fill="#862626" stroke="#862626" stroke-width="0.3" text-anchor="start" font-size="14.0" font-family="Liberation Serif">DMC</text>
<text transform="translate(1549.8 550) translate(0 1) scale(0.94 1)" fill="#862626" stroke="#862626" stroke-width="0.3" text-anchor="start" font-size="14.0" font-family="Liberation Serif">DPC</text>
<text transform="translate(1549.8 564.8) translate(0 1) scale(0.94 1)" fill="#862626" stroke="#862626" stroke-width="0.3" text-anchor="start" font-size="14.0" font-family="Liberation Serif">DMC</text>
<text transform="translate(1549.8 579.6) translate(0 1) scale(0.94 1)" fill="#862626" stroke="#862626" stroke-width="0.3" text-anchor="start" font-size="14.0" font-family="Liberation Serif">CC1 R</text>
<text transform="translate(1549.8 609.2) translate(0 1) scale(0.94 1)" fill="#862626" stroke="#862626" stroke-width="0.3" text-anchor="start" font-size="14.0" font-family="Liberation Serif">VBUSC</text>
<line x1="1602" y1="607" x2="1614" y2="619" stroke="#E07878" stroke-width="1.1"/>
<line x1="1602" y1="619" x2="1614" y2="607" stroke="#E07878" stroke-width="1.1"/>
<text transform="translate(1652.7 447.1) translate(0 0) scale(0.94 1)" fill="#28287E" stroke="#28287E" stroke-width="0.3" text-anchor="start" font-size="14.0" font-family="Liberation Serif">J1</text>
<text transform="translate(1652.7 653.4) translate(0 0) scale(0.94 1)" fill="#28287E" stroke="#28287E" stroke-width="0.3" text-anchor="start" font-size="14.0" font-family="Liberation Serif">TYPC 1</text>
<line x1="338" y1="100.5" x2="338" y2="80.5" stroke="#2A2A2A" stroke-width="1.4"/>
<line x1="338" y1="106.3" x2="338" y2="126.3" stroke="#2A2A2A" stroke-width="1.4"/>
<line x1="427" y1="50" x2="427" y2="40" stroke="#2A2A2A" stroke-width="1.4"/>
<line x1="427" y1="96" x2="427" y2="106" stroke="#2A2A2A" stroke-width="1.4"/>
<line x1="427" y1="130.3" x2="427" y2="110.3" stroke="#2A2A2A" stroke-width="1.4"/>
<line x1="427" y1="135.6" x2="427" y2="155.6" stroke="#2A2A2A" stroke-width="1.4"/>
<line x1="121.2" y1="391" x2="106.2" y2="391" stroke="#2A2A2A" stroke-width="1.4"/>
<line x1="127" y1="391" x2="142" y2="391" stroke="#2A2A2A" stroke-width="1.4"/>
<line x1="121.2" y1="420.4" x2="106.2" y2="420.4" stroke="#2A2A2A" stroke-width="1.4"/>
<line x1="127" y1="420.4" x2="142" y2="420.4" stroke="#2A2A2A" stroke-width="1.4"/>
<line x1="456.3" y1="764.5" x2="456.3" y2="744.5" stroke="#2A2A2A" stroke-width="1.4"/>
<line x1="456.3" y1="770.1" x2="456.3" y2="790.1" stroke="#2A2A2A" stroke-width="1.4"/>
<line x1="515.3" y1="764.5" x2="515.3" y2="744.5" stroke="#2A2A2A" stroke-width="1.4"/>
<line x1="515.3" y1="770.1" x2="515.3" y2="790.1" stroke="#2A2A2A" stroke-width="1.4"/>
<line x1="707.6" y1="528.5" x2="707.6" y2="508.5" stroke="#2A2A2A" stroke-width="1.4"/>
<line x1="707.6" y1="533.6" x2="707.6" y2="553.6" stroke="#2A2A2A" stroke-width="1.4"/>
<line x1="944.2" y1="598.4" x2="944.2" y2="588.4" stroke="#2A2A2A" stroke-width="1.4"/>
<line x1="944.2" y1="639.4" x2="944.2" y2="649.4" stroke="#2A2A2A" stroke-width="1.4"/>
<line x1="944.2" y1="675.7" x2="944.2" y2="655.7" stroke="#2A2A2A" stroke-width="1.4"/>
<line x1="944.2" y1="681" x2="944.2" y2="701" stroke="#2A2A2A" stroke-width="1.4"/>
<line x1="1017.2" y1="528.7" x2="1017.2" y2="508.7" stroke="#2A2A2A" stroke-width="1.4"/>
<line x1="1017.2" y1="534" x2="1017.2" y2="554" stroke="#2A2A2A" stroke-width="1.4"/>
<line x1="1106.1" y1="528.5" x2="1106.1" y2="508.5" stroke="#2A2A2A" stroke-width="1.4"/>
<line x1="1106.1" y1="534.1" x2="1106.1" y2="554.1" stroke="#2A2A2A" stroke-width="1.4"/>
<line x1="1209.8" y1="336.3" x2="1209.8" y2="316.3" stroke="#2A2A2A" stroke-width="1.4"/>
<line x1="1209.8" y1="341.8" x2="1209.8" y2="361.8" stroke="#2A2A2A" stroke-width="1.4"/>
<line x1="1016" y1="245.4" x2="1016" y2="225.4" stroke="#2A2A2A" stroke-width="1.4"/>
<line x1="1016" y1="250.7" x2="1016" y2="270.7" stroke="#2A2A2A" stroke-width="1.4"/>
<line x1="1121" y1="248.5" x2="1121" y2="228.5" stroke="#2A2A2A" stroke-width="1.4"/>
<line x1="1121" y1="253.6" x2="1121" y2="273.6" stroke="#2A2A2A" stroke-width="1.4"/>
<line x1="1332.5" y1="435.4" x2="1317.5" y2="435.4" stroke="#2A2A2A" stroke-width="1.4"/>
<line x1="1338" y1="435.4" x2="1353" y2="435.4" stroke="#2A2A2A" stroke-width="1.4"/>
<line x1="1313.9" y1="479.5" x2="1303.9" y2="479.5" stroke="#2A2A2A" stroke-width="1.4"/>
<line x1="1357" y1="479.5" x2="1367" y2="479.5" stroke="#2A2A2A" stroke-width="1.4"/>
<line x1="1431" y1="514" x2="1431" y2="494" stroke="#2A2A2A" stroke-width="1.4"/>
<line x1="1431" y1="519.3" x2="1431" y2="539.3" stroke="#2A2A2A" stroke-width="1.4"/>
<line x1="1401.4" y1="258.2" x2="1391.4" y2="258.2" stroke="#2A2A2A" stroke-width="1.4"/>
<line x1="1446.2" y1="258.2" x2="1456.2" y2="258.2" stroke="#2A2A2A" stroke-width="1.4"/>
<line x1="1401.4" y1="331.6" x2="1391.4" y2="331.6" stroke="#2A2A2A" stroke-width="1.4"/>
<line x1="1446.2" y1="331.6" x2="1456.2" y2="331.6" stroke="#2A2A2A" stroke-width="1.4"/>
<line x1="1563.9" y1="291.9" x2="1563.9" y2="271.9" stroke="#2A2A2A" stroke-width="1.4"/>
<line x1="1563.9" y1="298" x2="1563.9" y2="318" stroke="#2A2A2A" stroke-width="1.4"/>
<line x1="1667.3" y1="291.9" x2="1667.3" y2="271.9" stroke="#2A2A2A" stroke-width="1.4"/>
<line x1="1667.3" y1="298" x2="1667.3" y2="318" stroke="#2A2A2A" stroke-width="1.4"/>
<circle cx="427" cy="37" r="3.6" fill="#0A0A8C"/>
<circle cx="427" cy="169" r="3.6" fill="#0A0A8C"/>
<circle cx="102.2" cy="391" r="3.6" fill="#0A0A8C"/>
<circle cx="338" cy="730.3" r="3.6" fill="#0A0A8C"/>
<circle cx="456.3" cy="797" r="3.6" fill="#0A0A8C"/>
<circle cx="781.9" cy="214" r="3.6" fill="#0A0A8C"/>
<circle cx="811.4" cy="214" r="3.6" fill="#0A0A8C"/>
<circle cx="840.9" cy="214" r="3.6" fill="#0A0A8C"/>
<circle cx="870.4" cy="214" r="3.6" fill="#0A0A8C"/>
<circle cx="811.4" cy="479.5" r="3.6" fill="#0A0A8C"/>
<circle cx="840.9" cy="479.5" r="3.6" fill="#0A0A8C"/>
<circle cx="870.4" cy="479.5" r="3.6" fill="#0A0A8C"/>
<circle cx="693.2" cy="332" r="3.6" fill="#0A0A8C"/>
<circle cx="781.9" cy="479.5" r="3.6" fill="#0A0A8C"/>
<circle cx="811.4" cy="479.5" r="3.6" fill="#0A0A8C"/>
<circle cx="840.9" cy="479.5" r="3.6" fill="#0A0A8C"/>
<circle cx="870.4" cy="479.5" r="3.6" fill="#0A0A8C"/>
<circle cx="840.9" cy="700.6" r="3.6" fill="#0A0A8C"/>
<circle cx="707.6" cy="479.5" r="3.6" fill="#0A0A8C"/>
<circle cx="737.5" cy="479.5" r="3.6" fill="#0A0A8C"/>
<circle cx="899.5" cy="479.5" r="3.6" fill="#0A0A8C"/>
<circle cx="1017.2" cy="479.5" r="3.6" fill="#0A0A8C"/>
<circle cx="1017.2" cy="568" r="3.6" fill="#0A0A8C"/>
<circle cx="1106.1" cy="479.5" r="3.6" fill="#0A0A8C"/>
<circle cx="1106.1" cy="568" r="3.6" fill="#0A0A8C"/>
<circle cx="1195" cy="479.5" r="3.6" fill="#0A0A8C"/>
<circle cx="1209.8" cy="214" r="3.6" fill="#0A0A8C"/>
<circle cx="1209.8" cy="479.5" r="3.6" fill="#0A0A8C"/>
<circle cx="1016" cy="214" r="3.6" fill="#0A0A8C"/>
<circle cx="1121" cy="214" r="3.6" fill="#0A0A8C"/>
<circle cx="1121" cy="287.4" r="3.6" fill="#0A0A8C"/>
<circle cx="1283.3" cy="479.5" r="3.6" fill="#0A0A8C"/>
<circle cx="1386.9" cy="479.5" r="3.6" fill="#0A0A8C"/>
<circle cx="1431" cy="479.5" r="3.6" fill="#0A0A8C"/>
<path d="M0,0H1753 V4 H0Z M0,0 H5 V834 H0Z M1751,0 H1753 V834 H1751Z M0,833 H1753 V834 H0Z" fill="#FFFFFF"/>
</svg>
</body></html>
